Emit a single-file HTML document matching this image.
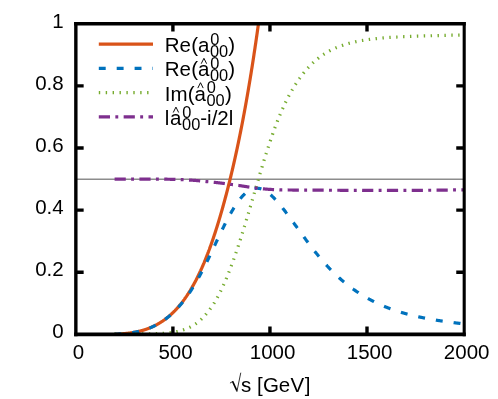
<!DOCTYPE html>
<html><head><meta charset="utf-8"><title>plot</title>
<style>
html,body{margin:0;padding:0;background:#fff;}
body{width:498px;height:399px;overflow:hidden;}
svg{display:block;}
text{font-family:"Liberation Sans",sans-serif;font-size:20.5px;fill:#000;font-kerning:none;}
text.s{font-size:16.4px;}
</style></head><body>
<svg style="will-change:transform" width="498" height="399" viewBox="0 0 498 399">
<rect x="0" y="0" width="498" height="399" fill="#fff"/>
<defs><clipPath id="c"><rect x="75.85" y="23.7" width="388.20000000000005" height="310.65000000000003"/></clipPath></defs>
<path d="M75.85,179.22 H464.05" stroke="#8c8c8c" stroke-width="1.5" fill="none"/>
<g fill="none" stroke-width="3.2" clip-path="url(#c)" stroke-linejoin="round">
<path d="M114.59,334.12 L114.79,334.11 L114.98,334.11 L115.18,334.10 L115.37,334.10 L115.57,334.09 L115.76,334.08 L115.95,334.08 L116.15,334.07 L116.34,334.06 L116.54,334.06 L116.73,334.05 L116.93,334.04 L117.12,334.04 L117.31,334.03 L117.51,334.02 L117.70,334.01 L117.90,334.00 L118.09,334.00 L118.29,333.99 L118.48,333.98 L118.67,333.97 L118.87,333.96 L119.06,333.95 L119.26,333.94 L119.45,333.93 L119.64,333.92 L119.84,333.91 L120.03,333.90 L120.23,333.89 L120.42,333.88 L120.62,333.87 L120.81,333.85 L121.00,333.84 L121.20,333.83 L121.39,333.82 L121.59,333.80 L121.78,333.79 L121.98,333.78 L122.17,333.76 L122.36,333.75 L122.56,333.74 L122.75,333.72 L122.95,333.71 L123.14,333.69 L123.34,333.68 L123.53,333.66 L123.72,333.65 L123.92,333.63 L124.11,333.61 L124.31,333.60 L124.50,333.58 L124.69,333.56 L124.89,333.55 L125.08,333.53 L125.28,333.51 L125.47,333.49 L125.67,333.47 L125.86,333.46 L126.05,333.44 L126.25,333.42 L126.44,333.40 L126.64,333.38 L126.83,333.36 L127.03,333.33 L127.22,333.31 L127.41,333.29 L127.61,333.27 L127.80,333.25 L128.00,333.23 L128.19,333.20 L128.38,333.18 L128.58,333.16 L128.77,333.13 L128.97,333.11 L129.16,333.08 L129.36,333.06 L129.55,333.03 L129.74,333.01 L129.94,332.98 L130.13,332.96 L130.33,332.93 L130.52,332.90 L130.72,332.88 L130.91,332.85 L131.10,332.82 L131.30,332.79 L131.49,332.76 L131.69,332.73 L131.88,332.70 L132.08,332.67 L132.27,332.64 L132.46,332.61 L132.66,332.58 L132.85,332.55 L133.05,332.52 L133.24,332.48 L133.43,332.45 L133.63,332.42 L133.82,332.38 L134.02,332.35 L134.21,332.32 L134.41,332.28 L134.60,332.24 L134.79,332.21 L134.99,332.17 L135.18,332.14 L135.38,332.10 L135.57,332.06 L135.77,332.02 L135.96,331.98 L136.15,331.95 L136.35,331.91 L136.54,331.87 L136.74,331.83 L136.93,331.79 L137.13,331.74 L137.32,331.70 L137.51,331.66 L137.71,331.62 L137.90,331.57 L138.10,331.53 L138.29,331.49 L138.48,331.44 L138.68,331.40 L138.87,331.35 L139.07,331.31 L139.26,331.26 L139.46,331.21 L139.65,331.17 L139.84,331.12 L140.04,331.07 L140.23,331.02 L140.43,330.97 L140.62,330.92 L140.82,330.87 L141.01,330.82 L141.20,330.77 L141.40,330.71 L141.59,330.66 L141.79,330.61 L141.98,330.55 L142.17,330.50 L142.37,330.45 L142.56,330.39 L142.76,330.33 L142.95,330.28 L143.15,330.22 L143.34,330.16 L143.53,330.11 L143.73,330.05 L143.92,329.99 L144.12,329.93 L144.31,329.87 L144.51,329.81 L144.70,329.74 L144.89,329.68 L145.09,329.62 L145.28,329.56 L145.48,329.49 L145.67,329.43 L145.87,329.36 L146.06,329.30 L146.25,329.23 L146.45,329.16 L146.64,329.09 L146.84,329.03 L147.03,328.96 L147.22,328.89 L147.42,328.82 L147.61,328.75 L147.81,328.68 L148.00,328.60 L148.20,328.53 L148.39,328.46 L148.58,328.38 L148.78,328.31 L148.97,328.23 L149.17,328.16 L149.36,328.08 L149.56,328.00 L149.75,327.93 L149.94,327.85 L150.14,327.77 L150.33,327.69 L150.53,327.61 L150.72,327.52 L150.92,327.44 L151.11,327.36 L151.30,327.28 L151.50,327.19 L151.69,327.11 L151.89,327.02 L152.08,326.94 L152.27,326.85 L152.47,326.76 L152.66,326.67 L152.86,326.58 L153.05,326.49 L153.25,326.40 L153.44,326.31 L153.63,326.22 L153.83,326.12 L154.02,326.03 L154.22,325.94 L154.41,325.84 L154.61,325.75 L154.80,325.65 L154.99,325.55 L155.19,325.45 L155.38,325.35 L155.58,325.25 L155.77,325.15 L155.96,325.05 L156.16,324.95 L156.35,324.85 L156.55,324.74 L156.74,324.64 L156.94,324.53 L157.13,324.43 L157.32,324.32 L157.52,324.21 L157.71,324.10 L157.91,323.99 L158.10,323.88 L158.30,323.77 L158.49,323.66 L158.68,323.55 L158.88,323.43 L159.07,323.32 L159.27,323.20 L159.46,323.08 L159.66,322.97 L159.85,322.85 L160.04,322.73 L160.24,322.61 L160.43,322.49 L160.63,322.37 L160.82,322.24 L161.01,322.12 L161.21,322.00 L161.40,321.87 L161.60,321.75 L161.79,321.62 L161.99,321.49 L162.18,321.36 L162.37,321.23 L162.57,321.10 L162.76,320.97 L162.96,320.84 L163.15,320.70 L163.35,320.57 L163.54,320.43 L163.73,320.30 L163.93,320.16 L164.12,320.02 L164.32,319.88 L164.51,319.74 L164.71,319.60 L164.90,319.46 L165.09,319.31 L165.29,319.17 L165.48,319.02 L165.68,318.88 L165.87,318.73 L166.06,318.58 L166.26,318.43 L166.45,318.28 L166.65,318.13 L166.84,317.98 L167.04,317.82 L167.23,317.67 L167.42,317.51 L167.62,317.35 L167.81,317.20 L168.01,317.04 L168.20,316.88 L168.40,316.72 L168.59,316.56 L168.78,316.39 L168.98,316.23 L169.17,316.06 L169.37,315.90 L169.56,315.73 L169.75,315.56 L169.95,315.39 L170.14,315.22 L170.34,315.05 L170.53,314.87 L170.73,314.70 L170.92,314.52 L171.11,314.35 L171.31,314.17 L171.50,313.99 L171.70,313.81 L171.89,313.63 L172.09,313.45 L172.28,313.26 L172.47,313.08 L172.67,312.89 L172.86,312.71 L173.06,312.52 L173.25,312.33 L173.45,312.14 L173.64,311.94 L173.83,311.75 L174.03,311.56 L174.22,311.36 L174.42,311.16 L174.61,310.97 L174.80,310.77 L175.00,310.57 L175.19,310.37 L175.39,310.16 L175.58,309.96 L175.78,309.75 L175.97,309.54 L176.16,309.34 L176.36,309.13 L176.55,308.92 L176.75,308.70 L176.94,308.49 L177.14,308.28 L177.33,308.06 L177.52,307.84 L177.72,307.62 L177.91,307.40 L178.11,307.18 L178.30,306.96 L178.50,306.74 L178.69,306.51 L178.88,306.28 L179.08,306.05 L179.27,305.83 L179.47,305.59 L179.66,305.36 L179.85,305.13 L180.05,304.89 L180.24,304.66 L180.44,304.42 L180.63,304.18 L180.83,303.94 L181.02,303.70 L181.21,303.45 L181.41,303.21 L181.60,302.96 L181.80,302.71 L181.99,302.46 L182.19,302.21 L182.38,301.96 L182.57,301.70 L182.77,301.45 L182.96,301.19 L183.16,300.93 L183.35,300.67 L183.54,300.41 L183.74,300.15 L183.93,299.88 L184.13,299.62 L184.32,299.35 L184.52,299.08 L184.71,298.81 L184.90,298.54 L185.10,298.26 L185.29,297.99 L185.49,297.71 L185.68,297.43 L185.88,297.15 L186.07,296.87 L186.26,296.59 L186.46,296.30 L186.65,296.01 L186.85,295.73 L187.04,295.43 L187.24,295.14 L187.43,294.85 L187.62,294.55 L187.82,294.26 L188.01,293.96 L188.21,293.66 L188.40,293.36 L188.59,293.05 L188.79,292.75 L188.98,292.44 L189.18,292.13 L189.37,291.82 L189.57,291.51 L189.76,291.20 L189.95,290.88 L190.15,290.56 L190.34,290.24 L190.54,289.92 L190.73,289.60 L190.93,289.27 L191.12,288.95 L191.31,288.62 L191.51,288.29 L191.70,287.96 L191.90,287.62 L192.09,287.29 L192.28,286.95 L192.48,286.61 L192.67,286.27 L192.87,285.93 L193.06,285.58 L193.26,285.23 L193.45,284.89 L193.64,284.53 L193.84,284.18 L194.03,283.83 L194.23,283.47 L194.42,283.11 L194.62,282.75 L194.81,282.39 L195.00,282.03 L195.20,281.66 L195.39,281.29 L195.59,280.92 L195.78,280.55 L195.98,280.18 L196.17,279.80 L196.36,279.42 L196.56,279.04 L196.75,278.66 L196.95,278.27 L197.14,277.89 L197.33,277.50 L197.53,277.11 L197.72,276.72 L197.92,276.32 L198.11,275.93 L198.31,275.53 L198.50,275.13 L198.69,274.73 L198.89,274.32 L199.08,273.92 L199.28,273.51 L199.47,273.10 L199.67,272.68 L199.86,272.27 L200.05,271.85 L200.25,271.43 L200.44,271.01 L200.64,270.59 L200.83,270.16 L201.03,269.73 L201.22,269.30 L201.41,268.87 L201.61,268.44 L201.80,268.00 L202.00,267.56 L202.19,267.12 L202.38,266.68 L202.58,266.23 L202.77,265.79 L202.97,265.34 L203.16,264.89 L203.36,264.43 L203.55,263.98 L203.74,263.52 L203.94,263.06 L204.13,262.59 L204.33,262.13 L204.52,261.66 L204.72,261.19 L204.91,260.72 L205.10,260.25 L205.30,259.77 L205.49,259.29 L205.69,258.81 L205.88,258.33 L206.07,257.84 L206.27,257.35 L206.46,256.86 L206.66,256.37 L206.85,255.88 L207.05,255.38 L207.24,254.88 L207.43,254.38 L207.63,253.88 L207.82,253.37 L208.02,252.86 L208.21,252.35 L208.41,251.84 L208.60,251.32 L208.79,250.81 L208.99,250.29 L209.18,249.76 L209.38,249.24 L209.57,248.71 L209.77,248.18 L209.96,247.65 L210.15,247.12 L210.35,246.58 L210.54,246.04 L210.74,245.50 L210.93,244.96 L211.12,244.41 L211.32,243.86 L211.51,243.31 L211.71,242.76 L211.90,242.20 L212.10,241.64 L212.29,241.08 L212.48,240.52 L212.68,239.96 L212.87,239.39 L213.07,238.82 L213.26,238.24 L213.46,237.67 L213.65,237.09 L213.84,236.51 L214.04,235.93 L214.23,235.35 L214.43,234.76 L214.62,234.17 L214.82,233.58 L215.01,232.98 L215.20,232.39 L215.40,231.79 L215.59,231.19 L215.79,230.58 L215.98,229.98 L216.17,229.37 L216.37,228.75 L216.56,228.14 L216.76,227.52 L216.95,226.91 L217.15,226.28 L217.34,225.66 L217.53,225.04 L217.73,224.41 L217.92,223.78 L218.12,223.14 L218.31,222.51 L218.51,221.87 L218.70,221.23 L218.89,220.58 L219.09,219.94 L219.28,219.29 L219.48,218.64 L219.67,217.99 L219.86,217.33 L220.06,216.67 L220.25,216.01 L220.45,215.35 L220.64,214.68 L220.84,214.02 L221.03,213.35 L221.22,212.67 L221.42,212.00 L221.61,211.32 L221.81,210.64 L222.00,209.96 L222.20,209.27 L222.39,208.59 L222.58,207.90 L222.78,207.20 L222.97,206.51 L223.17,205.81 L223.36,205.11 L223.56,204.41 L223.75,203.70 L223.94,203.00 L224.14,202.29 L224.33,201.57 L224.53,200.86 L224.72,200.14 L224.91,199.42 L225.11,198.70 L225.30,197.97 L225.50,197.24 L225.69,196.51 L225.89,195.78 L226.08,195.04 L226.27,194.31 L226.47,193.56 L226.66,192.82 L226.86,192.07 L227.05,191.32 L227.25,190.57 L227.44,189.82 L227.63,189.06 L227.83,188.30 L228.02,187.54 L228.22,186.77 L228.41,186.00 L228.61,185.23 L228.80,184.46 L228.99,183.68 L229.19,182.90 L229.38,182.12 L229.58,181.33 L229.77,180.54 L229.96,179.75 L230.16,178.96 L230.35,178.16 L230.55,177.36 L230.74,176.56 L230.94,175.75 L231.13,174.94 L231.32,174.13 L231.52,173.32 L231.71,172.50 L231.91,171.68 L232.10,170.85 L232.30,170.03 L232.49,169.20 L232.68,168.37 L232.88,167.53 L233.07,166.69 L233.27,165.85 L233.46,165.00 L233.65,164.15 L233.85,163.30 L234.04,162.45 L234.24,161.59 L234.43,160.73 L234.63,159.87 L234.82,159.00 L235.01,158.13 L235.21,157.25 L235.40,156.38 L235.60,155.50 L235.79,154.61 L235.99,153.72 L236.18,152.83 L236.37,151.94 L236.57,151.04 L236.76,150.14 L236.96,149.24 L237.15,148.33 L237.35,147.42 L237.54,146.50 L237.73,145.59 L237.93,144.67 L238.12,143.74 L238.32,142.81 L238.51,141.88 L238.70,140.94 L238.90,140.00 L239.09,139.06 L239.29,138.11 L239.48,137.16 L239.68,136.21 L239.87,135.25 L240.06,134.29 L240.26,133.32 L240.45,132.36 L240.65,131.38 L240.84,130.41 L241.04,129.43 L241.23,128.44 L241.42,127.45 L241.62,126.46 L241.81,125.46 L242.01,124.46 L242.20,123.46 L242.40,122.45 L242.59,121.44 L242.78,120.42 L242.98,119.40 L243.17,118.38 L243.37,117.35 L243.56,116.32 L243.75,115.28 L243.95,114.24 L244.14,113.20 L244.34,112.15 L244.53,111.10 L244.73,110.04 L244.92,108.98 L245.11,107.92 L245.31,106.85 L245.50,105.77 L245.70,104.70 L245.89,103.61 L246.09,102.53 L246.28,101.44 L246.47,100.34 L246.67,99.24 L246.86,98.14 L247.06,97.03 L247.25,95.92 L247.44,94.80 L247.64,93.68 L247.83,92.56 L248.03,91.43 L248.22,90.29 L248.42,89.15 L248.61,88.01 L248.80,86.86 L249.00,85.71 L249.19,84.55 L249.39,83.39 L249.58,82.23 L249.78,81.06 L249.97,79.88 L250.16,78.70 L250.36,77.52 L250.55,76.33 L250.75,75.14 L250.94,73.94 L251.14,72.74 L251.33,71.53 L251.52,70.32 L251.72,69.10 L251.91,67.88 L252.11,66.65 L252.30,65.42 L252.49,64.18 L252.69,62.94 L252.88,61.69 L253.08,60.44 L253.27,59.19 L253.47,57.92 L253.66,56.66 L253.85,55.39 L254.05,54.11 L254.24,52.83 L254.44,51.54 L254.63,50.25 L254.83,48.96 L255.02,47.66 L255.21,46.35 L255.41,45.04 L255.60,43.72 L255.80,42.40 L255.99,41.07 L256.19,39.74 L256.38,38.40 L256.57,37.06 L256.77,35.71 L256.96,34.36 L257.16,33.00 L257.35,31.63 L257.54,30.26 L257.74,28.89 L257.93,27.51 L258.13,26.12 L258.32,24.73 L258.52,23.33 L258.71,21.93 L258.90,20.52 L259.10,19.11 L259.29,17.69" stroke="#d95319"/>
<path d="M114.59,334.12 L114.79,334.11 L114.98,334.11 L115.18,334.10 L115.37,334.10 L115.57,334.09 L115.76,334.08 L115.95,334.08 L116.15,334.07 L116.34,334.07 L116.54,334.06 L116.73,334.05 L116.93,334.04 L117.12,334.04 L117.31,334.03 L117.51,334.02 L117.70,334.01 L117.90,334.00 L118.09,334.00 L118.29,333.99 L118.48,333.98 L118.67,333.97 L118.87,333.96 L119.06,333.95 L119.26,333.94 L119.45,333.93 L119.64,333.92 L119.84,333.91 L120.03,333.90 L120.23,333.89 L120.42,333.88 L120.62,333.87 L120.81,333.85 L121.00,333.84 L121.20,333.83 L121.39,333.82 L121.59,333.80 L121.78,333.79 L121.98,333.78 L122.17,333.76 L122.36,333.75 L122.56,333.74 L122.75,333.72 L122.95,333.71 L123.14,333.69 L123.34,333.68 L123.53,333.66 L123.72,333.65 L123.92,333.63 L124.11,333.62 L124.31,333.60 L124.50,333.58 L124.69,333.56 L124.89,333.55 L125.08,333.53 L125.28,333.51 L125.47,333.49 L125.67,333.47 L125.86,333.46 L126.05,333.44 L126.25,333.42 L126.44,333.40 L126.64,333.38 L126.83,333.36 L127.03,333.34 L127.22,333.31 L127.41,333.29 L127.61,333.27 L127.80,333.25 L128.00,333.23 L128.19,333.20 L128.38,333.18 L128.58,333.16 L128.77,333.13 L128.97,333.11 L129.16,333.09 L129.36,333.06 L129.55,333.04 L129.74,333.01 L129.94,332.98 L130.13,332.96 L130.33,332.93 L130.52,332.90 L130.72,332.88 L130.91,332.85 L131.10,332.82 L131.30,332.79 L131.49,332.76 L131.69,332.73 L131.88,332.70 L132.08,332.67 L132.27,332.64 L132.46,332.61 L132.66,332.58 L132.85,332.55 L133.05,332.52 L133.24,332.49 L133.43,332.45 L133.63,332.42 L133.82,332.39 L134.02,332.35 L134.21,332.32 L134.41,332.28 L134.60,332.25 L134.79,332.21 L134.99,332.17 L135.18,332.14 L135.38,332.10 L135.57,332.06 L135.77,332.03 L135.96,331.99 L136.15,331.95 L136.35,331.91 L136.54,331.87 L136.74,331.83 L136.93,331.79 L137.13,331.75 L137.32,331.71 L137.51,331.66 L137.71,331.62 L137.90,331.58 L138.10,331.53 L138.29,331.49 L138.48,331.45 L138.68,331.40 L138.87,331.36 L139.07,331.31 L139.26,331.26 L139.46,331.22 L139.65,331.17 L139.84,331.12 L140.04,331.07 L140.23,331.02 L140.43,330.97 L140.62,330.92 L140.82,330.87 L141.01,330.82 L141.20,330.77 L141.40,330.72 L141.59,330.67 L141.79,330.61 L141.98,330.56 L142.17,330.51 L142.37,330.45 L142.56,330.40 L142.76,330.34 L142.95,330.28 L143.15,330.23 L143.34,330.17 L143.53,330.11 L143.73,330.05 L143.92,329.99 L144.12,329.93 L144.31,329.87 L144.51,329.81 L144.70,329.75 L144.89,329.69 L145.09,329.63 L145.28,329.56 L145.48,329.50 L145.67,329.43 L145.87,329.37 L146.06,329.30 L146.25,329.24 L146.45,329.17 L146.64,329.10 L146.84,329.03 L147.03,328.97 L147.22,328.90 L147.42,328.83 L147.61,328.76 L147.81,328.68 L148.00,328.61 L148.20,328.54 L148.39,328.47 L148.58,328.39 L148.78,328.32 L148.97,328.24 L149.17,328.17 L149.36,328.09 L149.56,328.01 L149.75,327.94 L149.94,327.86 L150.14,327.78 L150.33,327.70 L150.53,327.62 L150.72,327.54 L150.92,327.45 L151.11,327.37 L151.30,327.29 L151.50,327.20 L151.69,327.12 L151.89,327.03 L152.08,326.95 L152.27,326.86 L152.47,326.77 L152.66,326.69 L152.86,326.60 L153.05,326.51 L153.25,326.42 L153.44,326.33 L153.63,326.23 L153.83,326.14 L154.02,326.05 L154.22,325.95 L154.41,325.86 L154.61,325.76 L154.80,325.67 L154.99,325.57 L155.19,325.47 L155.38,325.37 L155.58,325.27 L155.77,325.17 L155.96,325.07 L156.16,324.97 L156.35,324.87 L156.55,324.76 L156.74,324.66 L156.94,324.55 L157.13,324.45 L157.32,324.34 L157.52,324.23 L157.71,324.13 L157.91,324.02 L158.10,323.91 L158.30,323.80 L158.49,323.69 L158.68,323.57 L158.88,323.46 L159.07,323.35 L159.27,323.23 L159.46,323.11 L159.66,323.00 L159.85,322.88 L160.04,322.76 L160.24,322.64 L160.43,322.52 L160.63,322.40 L160.82,322.28 L161.01,322.16 L161.21,322.03 L161.40,321.91 L161.60,321.78 L161.79,321.66 L161.99,321.53 L162.18,321.40 L162.37,321.27 L162.57,321.14 L162.76,321.01 L162.96,320.88 L163.15,320.75 L163.35,320.61 L163.54,320.48 L163.73,320.34 L163.93,320.21 L164.12,320.07 L164.32,319.93 L164.51,319.79 L164.71,319.65 L164.90,319.51 L165.09,319.37 L165.29,319.23 L165.48,319.08 L165.68,318.94 L165.87,318.79 L166.06,318.65 L166.26,318.50 L166.45,318.35 L166.65,318.20 L166.84,318.05 L167.04,317.90 L167.23,317.74 L167.42,317.59 L167.62,317.43 L167.81,317.28 L168.01,317.12 L168.20,316.96 L168.40,316.81 L168.59,316.65 L168.78,316.48 L168.98,316.32 L169.17,316.16 L169.37,316.00 L169.56,315.83 L169.75,315.66 L169.95,315.50 L170.14,315.33 L170.34,315.16 L170.53,314.99 L170.73,314.82 L170.92,314.65 L171.11,314.47 L171.31,314.30 L171.50,314.12 L171.70,313.95 L171.89,313.77 L172.09,313.59 L172.28,313.41 L172.47,313.23 L172.67,313.05 L172.86,312.86 L173.06,312.68 L173.25,312.49 L173.45,312.31 L173.64,312.12 L173.83,311.93 L174.03,311.74 L174.22,311.55 L174.42,311.36 L174.61,311.16 L174.80,310.97 L175.00,310.77 L175.19,310.57 L175.39,310.38 L175.58,310.18 L175.78,309.98 L175.97,309.77 L176.16,309.57 L176.36,309.37 L176.55,309.16 L176.75,308.96 L176.94,308.75 L177.14,308.54 L177.33,308.33 L177.52,308.12 L177.72,307.91 L177.91,307.70 L178.11,307.48 L178.30,307.27 L178.50,307.05 L178.69,306.83 L178.88,306.61 L179.08,306.39 L179.27,306.17 L179.47,305.95 L179.66,305.72 L179.85,305.50 L180.05,305.27 L180.24,305.04 L180.44,304.81 L180.63,304.58 L180.83,304.35 L181.02,304.12 L181.21,303.89 L181.41,303.65 L181.60,303.41 L181.80,303.18 L181.99,302.94 L182.19,302.70 L182.38,302.45 L182.57,302.21 L182.77,301.97 L182.96,301.72 L183.16,301.48 L183.35,301.23 L183.54,300.98 L183.74,300.73 L183.93,300.48 L184.13,300.22 L184.32,299.97 L184.52,299.71 L184.71,299.46 L184.90,299.20 L185.10,298.94 L185.29,298.68 L185.49,298.42 L185.68,298.15 L185.88,297.89 L186.07,297.62 L186.26,297.35 L186.46,297.08 L186.65,296.82 L186.85,296.54 L187.04,296.27 L187.24,296.00 L187.43,295.72 L187.62,295.45 L187.82,295.17 L188.01,294.89 L188.21,294.61 L188.40,294.33 L188.59,294.04 L188.79,293.76 L188.98,293.47 L189.18,293.18 L189.37,292.90 L189.57,292.61 L189.76,292.31 L189.95,292.02 L190.15,291.73 L190.34,291.43 L190.54,291.13 L190.73,290.84 L190.93,290.54 L191.12,290.23 L191.31,289.93 L191.51,289.63 L191.70,289.32 L191.90,289.02 L192.09,288.71 L192.28,288.40 L192.48,288.09 L192.67,287.78 L192.87,287.46 L193.06,287.15 L193.26,286.83 L193.45,286.52 L193.64,286.20 L193.84,285.88 L194.03,285.56 L194.23,285.23 L194.42,284.91 L194.62,284.59 L194.81,284.26 L195.00,283.93 L195.20,283.60 L195.39,283.27 L195.59,282.94 L195.78,282.61 L195.98,282.28 L196.17,281.95 L196.36,281.61 L196.56,281.27 L196.75,280.94 L196.95,280.60 L197.14,280.26 L197.33,279.92 L197.53,279.58 L197.72,279.23 L197.92,278.89 L198.11,278.54 L198.31,278.20 L198.50,277.85 L198.69,277.50 L198.89,277.15 L199.08,276.80 L199.28,276.45 L199.47,276.09 L199.67,275.74 L199.86,275.38 L200.05,275.02 L200.25,274.66 L200.44,274.30 L200.64,273.94 L200.83,273.58 L201.03,273.22 L201.22,272.85 L201.41,272.49 L201.61,272.12 L201.80,271.75 L202.00,271.38 L202.19,271.01 L202.38,270.64 L202.58,270.27 L202.77,269.90 L202.97,269.53 L203.16,269.15 L203.36,268.77 L203.55,268.40 L203.74,268.02 L203.94,267.64 L204.13,267.26 L204.33,266.88 L204.52,266.50 L204.72,266.11 L204.91,265.73 L205.10,265.35 L205.30,264.96 L205.49,264.57 L205.69,264.18 L205.88,263.80 L206.07,263.41 L206.27,263.01 L206.46,262.62 L206.66,262.23 L206.85,261.84 L207.05,261.44 L207.24,261.05 L207.43,260.65 L207.63,260.25 L207.82,259.86 L208.02,259.46 L208.21,259.06 L208.41,258.66 L208.60,258.26 L208.79,257.85 L208.99,257.45 L209.18,257.05 L209.38,256.64 L209.57,256.24 L209.77,255.83 L209.96,255.43 L210.15,255.02 L210.35,254.61 L210.54,254.21 L210.74,253.80 L210.93,253.39 L211.12,252.98 L211.32,252.57 L211.51,252.16 L211.71,251.75 L211.90,251.34 L212.10,250.93 L212.29,250.52 L212.48,250.11 L212.68,249.70 L212.87,249.28 L213.07,248.87 L213.26,248.46 L213.46,248.05 L213.65,247.63 L213.84,247.22 L214.04,246.81 L214.23,246.39 L214.43,245.98 L214.62,245.57 L214.82,245.15 L215.01,244.74 L215.20,244.33 L215.40,243.92 L215.59,243.50 L215.79,243.09 L215.98,242.68 L216.17,242.26 L216.37,241.85 L216.56,241.44 L216.76,241.02 L216.95,240.61 L217.15,240.20 L217.34,239.79 L217.53,239.38 L217.73,238.97 L217.92,238.55 L218.12,238.14 L218.31,237.73 L218.51,237.32 L218.70,236.91 L218.89,236.51 L219.09,236.10 L219.28,235.69 L219.48,235.28 L219.67,234.87 L219.86,234.47 L220.06,234.06 L220.25,233.66 L220.45,233.25 L220.64,232.85 L220.84,232.44 L221.03,232.04 L221.22,231.64 L221.42,231.24 L221.61,230.84 L221.81,230.44 L222.00,230.04 L222.20,229.64 L222.39,229.24 L222.58,228.84 L222.78,228.45 L222.97,228.05 L223.17,227.66 L223.36,227.27 L223.56,226.88 L223.75,226.48 L223.94,226.10 L224.14,225.71 L224.33,225.32 L224.53,224.93 L224.72,224.55 L224.91,224.16 L225.11,223.78 L225.30,223.40 L225.50,223.01 L225.69,222.63 L225.89,222.26 L226.08,221.88 L226.27,221.50 L226.47,221.13 L226.66,220.75 L226.86,220.38 L227.05,220.01 L227.25,219.64 L227.44,219.27 L227.63,218.90 L227.83,218.54 L228.02,218.17 L228.22,217.81 L228.41,217.45 L228.61,217.09 L228.80,216.73 L228.99,216.37 L229.19,216.01 L229.38,215.66 L229.58,215.31 L229.77,214.95 L229.96,214.60 L230.16,214.26 L230.35,213.91 L230.55,213.57 L230.74,213.22 L230.94,212.88 L231.13,212.54 L231.32,212.20 L231.52,211.87 L231.71,211.53 L231.91,211.20 L232.10,210.87 L232.30,210.54 L232.49,210.21 L232.68,209.88 L232.88,209.56 L233.07,209.24 L233.27,208.91 L233.46,208.60 L233.65,208.28 L233.85,207.96 L234.04,207.65 L234.24,207.34 L234.43,207.03 L234.63,206.72 L234.82,206.42 L235.01,206.12 L235.21,205.81 L235.40,205.52 L235.60,205.22 L235.79,204.92 L235.99,204.63 L236.18,204.34 L236.37,204.05 L236.57,203.76 L236.76,203.48 L236.96,203.20 L237.15,202.92 L237.35,202.64 L237.54,202.36 L237.73,202.09 L237.93,201.82 L238.12,201.55 L238.32,201.28 L238.51,201.02 L238.70,200.76 L238.90,200.50 L239.09,200.24 L239.29,199.99 L239.48,199.73 L239.68,199.48 L239.87,199.24 L240.06,198.99 L240.26,198.75 L240.45,198.51 L240.65,198.27 L240.84,198.04 L241.04,197.81 L241.23,197.58 L241.42,197.35 L241.62,197.13 L241.81,196.90 L242.01,196.69 L242.20,196.47 L242.40,196.26 L242.59,196.04 L242.78,195.84 L242.98,195.63 L243.17,195.43 L243.37,195.23 L243.56,195.03 L243.75,194.83 L243.95,194.64 L244.14,194.45 L244.34,194.27 L244.53,194.08 L244.73,193.90 L244.92,193.72 L245.11,193.55 L245.31,193.37 L245.50,193.20 L245.70,193.04 L245.89,192.87 L246.09,192.71 L246.28,192.55 L246.47,192.40 L246.67,192.24 L246.86,192.09 L247.06,191.95 L247.25,191.80 L247.44,191.66 L247.64,191.52 L247.83,191.38 L248.03,191.25 L248.22,191.12 L248.42,190.99 L248.61,190.87 L248.80,190.75 L249.00,190.63 L249.19,190.51 L249.39,190.40 L249.58,190.29 L249.78,190.18 L249.97,190.08 L250.16,189.97 L250.36,189.87 L250.55,189.78 L250.75,189.69 L250.94,189.60 L251.14,189.51 L251.33,189.42 L251.52,189.34 L251.72,189.26 L251.91,189.19 L252.11,189.11 L252.30,189.04 L252.49,188.98 L252.69,188.91 L252.88,188.85 L253.08,188.79 L253.27,188.74 L253.47,188.68 L253.66,188.63 L253.85,188.59 L254.05,188.54 L254.24,188.50 L254.44,188.46 L254.63,188.43 L254.83,188.39 L255.02,188.36 L255.21,188.34 L255.41,188.31 L255.60,188.29 L255.80,188.27 L255.99,188.26 L256.19,188.24 L256.38,188.24 L256.57,188.23 L256.77,188.23 L256.96,188.22 L257.16,188.23 L257.35,188.23 L257.54,188.24 L257.74,188.25 L257.93,188.26 L258.13,188.28 L258.32,188.30 L258.52,188.32 L258.71,188.35 L258.90,188.37 L259.10,188.40 L259.29,188.44 L259.49,188.47 L259.68,188.51 L259.88,188.55 L260.07,188.60 L260.26,188.64 L260.46,188.69 L260.65,188.75 L260.85,188.80 L261.04,188.86 L261.23,188.92 L261.43,188.98 L261.62,189.05 L261.82,189.12 L262.01,189.19 L262.21,189.26 L262.40,189.34 L262.59,189.42 L262.79,189.50 L262.98,189.58 L263.18,189.67 L263.37,189.76 L263.57,189.85 L263.76,189.95 L263.95,190.05 L264.15,190.15 L264.34,190.25 L264.54,190.36 L264.73,190.47 L264.93,190.58 L265.12,190.69 L265.31,190.81 L265.51,190.92 L265.70,191.04 L265.90,191.17 L266.09,191.29 L266.28,191.42 L266.48,191.55 L266.67,191.68 L266.87,191.81 L267.06,191.95 L267.26,192.09 L267.45,192.23 L267.64,192.37 L267.84,192.52 L268.03,192.66 L268.23,192.81 L268.42,192.96 L268.62,193.11 L268.81,193.27 L269.00,193.42 L269.20,193.58 L269.39,193.74 L269.59,193.90 L269.78,194.06 L269.98,194.23 L270.17,194.39 L270.36,194.56 L270.56,194.73 L270.75,194.90 L270.95,195.08 L271.14,195.25 L271.33,195.43 L271.53,195.61 L271.72,195.79 L271.92,195.97 L272.11,196.16 L272.31,196.34 L272.50,196.53 L272.69,196.72 L272.89,196.91 L273.08,197.10 L273.28,197.30 L273.47,197.50 L273.67,197.69 L273.86,197.89 L274.05,198.09 L274.25,198.30 L274.44,198.50 L274.64,198.70 L274.83,198.91 L275.02,199.12 L275.22,199.33 L275.41,199.54 L275.61,199.75 L275.80,199.96 L276.00,200.18 L276.19,200.40 L276.38,200.61 L276.58,200.83 L276.77,201.05 L276.97,201.27 L277.16,201.49 L277.36,201.72 L277.55,201.94 L277.74,202.17 L277.94,202.39 L278.13,202.62 L278.33,202.85 L278.52,203.08 L278.72,203.31 L278.91,203.54 L279.10,203.77 L279.30,204.01 L279.49,204.24 L279.69,204.48 L279.88,204.71 L280.07,204.95 L280.27,205.19 L280.46,205.42 L280.66,205.66 L280.85,205.90 L281.05,206.14 L281.24,206.39 L281.43,206.63 L281.63,206.87 L281.82,207.12 L282.02,207.36 L282.21,207.61 L282.41,207.85 L282.60,208.10 L282.79,208.35 L282.99,208.59 L283.18,208.84 L283.38,209.09 L283.57,209.34 L283.76,209.59 L283.96,209.84 L284.15,210.09 L284.35,210.35 L284.54,210.60 L284.74,210.85 L284.93,211.11 L285.12,211.36 L285.32,211.61 L285.51,211.87 L285.71,212.12 L285.90,212.38 L286.10,212.64 L286.29,212.89 L286.48,213.15 L286.68,213.41 L286.87,213.67 L287.07,213.92 L287.26,214.18 L287.46,214.44 L287.65,214.70 L287.84,214.96 L288.04,215.22 L288.23,215.48 L288.43,215.74 L288.62,216.00 L288.81,216.26 L289.01,216.52 L289.20,216.78 L289.40,217.05 L289.59,217.31 L289.79,217.57 L289.98,217.83 L290.17,218.09 L290.37,218.36 L290.56,218.62 L290.76,218.88 L290.95,219.15 L291.15,219.41 L291.34,219.68 L291.53,219.94 L291.73,220.20 L291.92,220.47 L292.12,220.73 L292.31,221.00 L292.51,221.26 L292.70,221.53 L292.89,221.80 L293.09,222.06 L293.28,222.33 L293.48,222.59 L293.67,222.86 L293.86,223.12 L294.06,223.39 L294.25,223.66 L294.45,223.92 L294.64,224.19 L294.84,224.46 L295.03,224.72 L295.22,224.99 L295.42,225.26 L295.61,225.53 L295.81,225.79 L296.00,226.06 L296.20,226.33 L296.39,226.60 L296.58,226.86 L296.78,227.13 L296.97,227.40 L297.17,227.67 L297.36,227.93 L297.55,228.20 L297.75,228.47 L297.94,228.74 L298.14,229.00 L298.33,229.27 L298.53,229.54 L298.72,229.81 L298.91,230.08 L299.11,230.34 L299.30,230.61 L299.50,230.88 L299.69,231.15 L299.89,231.41 L300.08,231.68 L300.27,231.95 L300.47,232.22 L300.66,232.49 L300.86,232.75 L301.05,233.02 L301.25,233.29 L301.44,233.56 L301.63,233.82 L301.83,234.09 L302.02,234.36 L302.22,234.62 L302.41,234.89 L302.60,235.16 L302.80,235.42 L302.99,235.69 L303.19,235.96 L303.38,236.22 L303.58,236.49 L303.77,236.75 L303.96,237.02 L304.16,237.28 L304.35,237.55 L304.55,237.81 L304.74,238.08 L304.94,238.34 L305.13,238.61 L305.32,238.87 L305.52,239.14 L305.71,239.40 L305.91,239.66 L306.10,239.93 L306.30,240.19 L306.49,240.45 L306.68,240.71 L306.88,240.97 L307.07,241.24 L307.27,241.50 L307.46,241.76 L307.65,242.02 L307.85,242.28 L308.04,242.54 L308.24,242.80 L308.43,243.06 L308.63,243.32 L308.82,243.58 L309.01,243.84 L309.21,244.09 L309.40,244.35 L309.60,244.61 L309.79,244.87 L309.99,245.12 L310.18,245.38 L310.37,245.63 L310.57,245.89 L310.76,246.15 L310.96,246.40 L311.15,246.65 L311.34,246.91 L311.54,247.16 L311.73,247.42 L311.93,247.67 L312.12,247.92 L312.32,248.17 L312.51,248.42 L312.70,248.67 L312.90,248.93 L313.09,249.18 L313.29,249.43 L313.48,249.67 L313.68,249.92 L313.87,250.17 L314.06,250.42 L314.26,250.67 L314.45,250.91 L314.65,251.16 L314.84,251.41 L315.04,251.65 L315.23,251.90 L315.42,252.14 L315.62,252.39 L315.81,252.63 L316.01,252.87 L316.20,253.12 L316.39,253.36 L316.59,253.60 L316.78,253.84 L316.98,254.08 L317.17,254.32 L317.37,254.56 L317.56,254.80 L317.75,255.04 L317.95,255.28 L318.14,255.51 L318.34,255.75 L318.53,255.99 L318.73,256.22 L318.92,256.46 L319.11,256.69 L319.31,256.93 L319.50,257.16 L319.70,257.40 L319.89,257.63 L320.09,257.86 L320.28,258.09 L320.47,258.32 L320.67,258.55 L320.86,258.78 L321.06,259.01 L321.25,259.24 L321.44,259.47 L321.64,259.70 L321.83,259.92 L322.03,260.15 L322.22,260.38 L322.42,260.60 L322.61,260.83 L322.80,261.05 L323.00,261.28 L323.19,261.50 L323.39,261.72 L323.58,261.94 L323.78,262.16 L323.97,262.39 L324.16,262.61 L324.36,262.83 L324.55,263.04 L324.75,263.26 L324.94,263.48 L325.13,263.70 L325.33,263.91 L325.52,264.13 L325.72,264.35 L325.91,264.56 L326.11,264.78 L326.30,264.99 L326.49,265.20 L326.69,265.41 L326.88,265.63 L327.08,265.84 L327.27,266.05 L327.47,266.26 L327.66,266.47 L327.85,266.68 L328.05,266.89 L328.24,267.09 L328.44,267.30 L328.63,267.51 L328.83,267.71 L329.02,267.92 L329.21,268.12 L329.41,268.33 L329.60,268.53 L329.80,268.73 L329.99,268.94 L330.18,269.14 L330.38,269.34 L330.57,269.54 L330.77,269.74 L330.96,269.94 L331.16,270.14 L331.35,270.33 L331.54,270.53 L331.74,270.73 L331.93,270.93 L332.13,271.12 L332.32,271.32 L332.52,271.51 L332.71,271.71 L332.90,271.90 L333.10,272.09 L333.29,272.28 L333.49,272.48 L333.68,272.67 L333.88,272.86 L334.07,273.05 L334.26,273.24 L334.46,273.43 L334.65,273.61 L334.85,273.80 L335.04,273.99 L335.23,274.17 L335.43,274.36 L335.62,274.55 L335.82,274.73 L336.01,274.91 L336.21,275.10 L336.40,275.28 L336.59,275.46 L336.79,275.65 L336.98,275.83 L337.18,276.01 L337.37,276.19 L337.57,276.37 L337.76,276.55 L337.95,276.73 L338.15,276.90 L338.34,277.08 L338.54,277.26 L338.73,277.43 L338.92,277.61 L339.12,277.79 L339.31,277.96 L339.51,278.13 L339.70,278.31 L339.90,278.48 L340.09,278.65 L340.28,278.83 L340.48,279.00 L340.67,279.17 L340.87,279.34 L341.06,279.51 L341.26,279.68 L341.45,279.85 L341.64,280.01 L341.84,280.18 L342.03,280.35 L342.23,280.52 L342.42,280.68 L342.62,280.85 L342.81,281.01 L343.00,281.18 L343.20,281.34 L343.39,281.51 L343.59,281.67 L343.78,281.83 L343.97,281.99 L344.17,282.15 L344.36,282.32 L344.56,282.48 L344.75,282.64 L344.95,282.80 L345.14,282.95 L345.33,283.11 L345.53,283.27 L345.72,283.43 L345.92,283.59 L346.11,283.74 L346.31,283.90 L346.50,284.05 L346.69,284.21 L346.89,284.36 L347.08,284.52 L347.28,284.67 L347.47,284.82 L347.66,284.98 L347.86,285.13 L348.05,285.28 L348.25,285.43 L348.44,285.58 L348.64,285.73 L348.83,285.88 L349.02,286.03 L349.22,286.18 L349.41,286.33 L349.61,286.47 L349.80,286.62 L350.00,286.77 L350.19,286.91 L350.38,287.06 L350.58,287.21 L350.77,287.35 L350.97,287.49 L351.16,287.64 L351.36,287.78 L351.55,287.93 L351.74,288.07 L351.94,288.21 L352.13,288.35 L352.33,288.49 L352.52,288.63 L352.71,288.77 L352.91,288.91 L353.10,289.05 L353.30,289.19 L353.49,289.33 L353.69,289.47 L353.88,289.61 L354.07,289.74 L354.27,289.88 L354.46,290.02 L354.66,290.15 L354.85,290.29 L355.05,290.42 L355.24,290.56 L355.43,290.69 L355.63,290.83 L355.82,290.96 L356.02,291.09 L356.21,291.22 L356.41,291.36 L356.60,291.49 L356.79,291.62 L356.99,291.75 L357.18,291.88 L357.38,292.01 L357.57,292.14 L357.76,292.27 L357.96,292.40 L358.15,292.53 L358.35,292.65 L358.54,292.78 L358.74,292.91 L358.93,293.04 L359.12,293.16 L359.32,293.29 L359.51,293.41 L359.71,293.54 L359.90,293.66 L360.10,293.79 L360.29,293.91 L360.48,294.03 L360.68,294.16 L360.87,294.28 L361.07,294.40 L361.26,294.52 L361.45,294.64 L361.65,294.77 L361.84,294.89 L362.04,295.01 L362.23,295.13 L362.43,295.25 L362.62,295.36 L362.81,295.48 L363.01,295.60 L363.20,295.72 L363.40,295.84 L363.59,295.95 L363.79,296.07 L363.98,296.19 L364.17,296.30 L364.37,296.42 L364.56,296.53 L364.76,296.65 L364.95,296.76 L365.15,296.88 L365.34,296.99 L365.53,297.10 L365.73,297.22 L365.92,297.33 L366.12,297.44 L366.31,297.55 L366.50,297.66 L366.70,297.77 L366.89,297.89 L367.09,298.00 L367.28,298.11 L367.48,298.21 L367.67,298.32 L367.86,298.43 L368.06,298.54 L368.25,298.65 L368.45,298.76 L368.64,298.86 L368.84,298.97 L369.03,299.08 L369.22,299.18 L369.42,299.29 L369.61,299.39 L369.81,299.50 L370.00,299.60 L370.20,299.71 L370.39,299.81 L370.58,299.92 L370.78,300.02 L370.97,300.12 L371.17,300.22 L371.36,300.33 L371.55,300.43 L371.75,300.53 L371.94,300.63 L372.14,300.73 L372.33,300.83 L372.53,300.93 L372.72,301.03 L372.91,301.13 L373.11,301.23 L373.30,301.33 L373.50,301.43 L373.69,301.52 L373.89,301.62 L374.08,301.72 L374.27,301.82 L374.47,301.91 L374.66,302.01 L374.86,302.11 L375.05,302.20 L375.24,302.30 L375.44,302.39 L375.63,302.49 L375.83,302.58 L376.02,302.67 L376.22,302.77 L376.41,302.86 L376.60,302.95 L376.80,303.05 L376.99,303.14 L377.19,303.23 L377.38,303.32 L377.58,303.41 L377.77,303.50 L377.96,303.60 L378.16,303.69 L378.35,303.78 L378.55,303.87 L378.74,303.95 L378.94,304.04 L379.13,304.13 L379.32,304.22 L379.52,304.31 L379.71,304.40 L379.91,304.48 L380.10,304.57 L380.29,304.66 L380.49,304.75 L380.68,304.83 L380.88,304.92 L381.07,305.00 L381.27,305.09 L381.46,305.17 L381.65,305.26 L381.85,305.34 L382.04,305.43 L382.24,305.51 L382.43,305.59 L382.63,305.68 L382.82,305.76 L383.01,305.84 L383.21,305.92 L383.40,306.01 L383.60,306.09 L383.79,306.17 L383.99,306.25 L384.18,306.33 L384.37,306.41 L384.57,306.49 L384.76,306.57 L384.96,306.65 L385.15,306.73 L385.34,306.81 L385.54,306.89 L385.73,306.97 L385.93,307.05 L386.12,307.12 L386.32,307.20 L386.51,307.28 L386.70,307.36 L386.90,307.43 L387.09,307.51 L387.29,307.58 L387.48,307.66 L387.68,307.74 L387.87,307.81 L388.06,307.89 L388.26,307.96 L388.45,308.04 L388.65,308.11 L388.84,308.18 L389.03,308.26 L389.23,308.33 L389.42,308.40 L389.62,308.48 L389.81,308.55 L390.01,308.62 L390.20,308.69 L390.39,308.77 L390.59,308.84 L390.78,308.91 L390.98,308.98 L391.17,309.05 L391.37,309.12 L391.56,309.19 L391.75,309.26 L391.95,309.33 L392.14,309.40 L392.34,309.47 L392.53,309.54 L392.73,309.61 L392.92,309.68 L393.11,309.74 L393.31,309.81 L393.50,309.88 L393.70,309.95 L393.89,310.01 L394.08,310.08 L394.28,310.15 L394.47,310.21 L394.67,310.28 L394.86,310.35 L395.06,310.41 L395.25,310.48 L395.44,310.54 L395.64,310.61 L395.83,310.67 L396.03,310.74 L396.22,310.80 L396.42,310.86 L396.61,310.93 L396.80,310.99 L397.00,311.05 L397.19,311.12 L397.39,311.18 L397.58,311.24 L397.78,311.30 L397.97,311.37 L398.16,311.43 L398.36,311.49 L398.55,311.55 L398.75,311.61 L398.94,311.67 L399.13,311.73 L399.33,311.79 L399.52,311.85 L399.72,311.91 L399.91,311.97 L400.11,312.03 L400.30,312.09 L400.49,312.15 L400.69,312.21 L400.88,312.27 L401.08,312.33 L401.27,312.39 L401.47,312.44 L401.66,312.50 L401.85,312.56 L402.05,312.62 L402.24,312.67 L402.44,312.73 L402.63,312.79 L402.82,312.84 L403.02,312.90 L403.21,312.96 L403.41,313.01 L403.60,313.07 L403.80,313.12 L403.99,313.18 L404.18,313.23 L404.38,313.29 L404.57,313.34 L404.77,313.40 L404.96,313.45 L405.16,313.51 L405.35,313.56 L405.54,313.61 L405.74,313.67 L405.93,313.72 L406.13,313.77 L406.32,313.83 L406.52,313.88 L406.71,313.93 L406.90,313.99 L407.10,314.04 L407.29,314.09 L407.49,314.14 L407.68,314.19 L407.87,314.24 L408.07,314.30 L408.26,314.35 L408.46,314.40 L408.65,314.45 L408.85,314.50 L409.04,314.55 L409.23,314.60 L409.43,314.65 L409.62,314.70 L409.82,314.75 L410.01,314.80 L410.21,314.85 L410.40,314.90 L410.59,314.94 L410.79,314.99 L410.98,315.04 L411.18,315.09 L411.37,315.14 L411.57,315.19 L411.76,315.23 L411.95,315.28 L412.15,315.33 L412.34,315.38 L412.54,315.42 L412.73,315.47 L412.92,315.52 L413.12,315.57 L413.31,315.61 L413.51,315.66 L413.70,315.70 L413.90,315.75 L414.09,315.80 L414.28,315.84 L414.48,315.89 L414.67,315.93 L414.87,315.98 L415.06,316.02 L415.26,316.07 L415.45,316.11 L415.64,316.16 L415.84,316.20 L416.03,316.25 L416.23,316.29 L416.42,316.34 L416.61,316.38 L416.81,316.42 L417.00,316.47 L417.20,316.51 L417.39,316.55 L417.59,316.60 L417.78,316.64 L417.97,316.68 L418.17,316.73 L418.36,316.77 L418.56,316.81 L418.75,316.85 L418.95,316.89 L419.14,316.94 L419.33,316.98 L419.53,317.02 L419.72,317.06 L419.92,317.10 L420.11,317.14 L420.31,317.19 L420.50,317.23 L420.69,317.27 L420.89,317.31 L421.08,317.35 L421.28,317.39 L421.47,317.43 L421.66,317.47 L421.86,317.51 L422.05,317.55 L422.25,317.59 L422.44,317.63 L422.64,317.67 L422.83,317.71 L423.02,317.75 L423.22,317.79 L423.41,317.83 L423.61,317.87 L423.80,317.90 L424.00,317.94 L424.19,317.98 L424.38,318.02 L424.58,318.06 L424.77,318.10 L424.97,318.13 L425.16,318.17 L425.36,318.21 L425.55,318.25 L425.74,318.29 L425.94,318.32 L426.13,318.36 L426.33,318.40 L426.52,318.43 L426.71,318.47 L426.91,318.51 L427.10,318.55 L427.30,318.58 L427.49,318.62 L427.69,318.65 L427.88,318.69 L428.07,318.73 L428.27,318.76 L428.46,318.80 L428.66,318.84 L428.85,318.87 L429.05,318.91 L429.24,318.94 L429.43,318.98 L429.63,319.01 L429.82,319.05 L430.02,319.08 L430.21,319.12 L430.40,319.15 L430.60,319.19 L430.79,319.22 L430.99,319.26 L431.18,319.29 L431.38,319.32 L431.57,319.36 L431.76,319.39 L431.96,319.43 L432.15,319.46 L432.35,319.49 L432.54,319.53 L432.74,319.56 L432.93,319.60 L433.12,319.63 L433.32,319.66 L433.51,319.69 L433.71,319.73 L433.90,319.76 L434.10,319.79 L434.29,319.83 L434.48,319.86 L434.68,319.89 L434.87,319.92 L435.07,319.96 L435.26,319.99 L435.45,320.02 L435.65,320.05 L435.84,320.08 L436.04,320.12 L436.23,320.15 L436.43,320.18 L436.62,320.21 L436.81,320.24 L437.01,320.27 L437.20,320.31 L437.40,320.34 L437.59,320.37 L437.79,320.40 L437.98,320.43 L438.17,320.46 L438.37,320.49 L438.56,320.52 L438.76,320.55 L438.95,320.58 L439.14,320.61 L439.34,320.64 L439.53,320.67 L439.73,320.70 L439.92,320.73 L440.12,320.76 L440.31,320.79 L440.50,320.82 L440.70,320.85 L440.89,320.88 L441.09,320.91 L441.28,320.94 L441.48,320.97 L441.67,321.00 L441.86,321.03 L442.06,321.06 L442.25,321.09 L442.45,321.12 L442.64,321.14 L442.84,321.17 L443.03,321.20 L443.22,321.23 L443.42,321.26 L443.61,321.29 L443.81,321.32 L444.00,321.34 L444.19,321.37 L444.39,321.40 L444.58,321.43 L444.78,321.46 L444.97,321.48 L445.17,321.51 L445.36,321.54 L445.55,321.57 L445.75,321.59 L445.94,321.62 L446.14,321.65 L446.33,321.68 L446.53,321.70 L446.72,321.73 L446.91,321.76 L447.11,321.78 L447.30,321.81 L447.50,321.84 L447.69,321.87 L447.89,321.89 L448.08,321.92 L448.27,321.94 L448.47,321.97 L448.66,322.00 L448.86,322.02 L449.05,322.05 L449.24,322.08 L449.44,322.10 L449.63,322.13 L449.83,322.15 L450.02,322.18 L450.22,322.21 L450.41,322.23 L450.60,322.26 L450.80,322.28 L450.99,322.31 L451.19,322.33 L451.38,322.36 L451.58,322.38 L451.77,322.41 L451.96,322.43 L452.16,322.46 L452.35,322.48 L452.55,322.51 L452.74,322.53 L452.93,322.56 L453.13,322.58 L453.32,322.61 L453.52,322.63 L453.71,322.66 L453.91,322.68 L454.10,322.71 L454.29,322.73 L454.49,322.76 L454.68,322.78 L454.88,322.80 L455.07,322.83 L455.27,322.85 L455.46,322.88 L455.65,322.90 L455.85,322.92 L456.04,322.95 L456.24,322.97 L456.43,322.99 L456.63,323.02 L456.82,323.04 L457.01,323.06 L457.21,323.09 L457.40,323.11 L457.60,323.13 L457.79,323.16 L457.98,323.18 L458.18,323.20 L458.37,323.23 L458.57,323.25 L458.76,323.27 L458.96,323.30 L459.15,323.32 L459.34,323.34 L459.54,323.36 L459.73,323.39 L459.93,323.41 L460.12,323.43 L460.32,323.45 L460.51,323.48 L460.70,323.50 L460.90,323.52 L461.09,323.54 L461.29,323.57 L461.48,323.59 L461.68,323.61 L461.87,323.63 L462.06,323.65 L462.26,323.67 L462.45,323.70 L462.65,323.72 L462.84,323.74 L463.03,323.76 L463.23,323.78 L463.42,323.80 L463.62,323.83 L463.81,323.85 L464.01,323.87 L464.20,323.89" stroke="#0072bd" stroke-dasharray="6.9 11.02" stroke-dashoffset="0.2"/>
<path d="M114.59,334.05 L114.79,334.05 L114.98,334.05 L115.18,334.05 L115.37,334.05 L115.57,334.05 L115.76,334.05 L115.95,334.05 L116.15,334.05 L116.34,334.05 L116.54,334.05 L116.73,334.05 L116.93,334.05 L117.12,334.05 L117.31,334.05 L117.51,334.05 L117.70,334.05 L117.90,334.05 L118.09,334.05 L118.29,334.05 L118.48,334.05 L118.67,334.05 L118.87,334.05 L119.06,334.05 L119.26,334.05 L119.45,334.05 L119.64,334.05 L119.84,334.05 L120.03,334.05 L120.23,334.05 L120.42,334.05 L120.62,334.05 L120.81,334.05 L121.00,334.05 L121.20,334.05 L121.39,334.05 L121.59,334.05 L121.78,334.05 L121.98,334.05 L122.17,334.05 L122.36,334.05 L122.56,334.05 L122.75,334.05 L122.95,334.05 L123.14,334.04 L123.34,334.04 L123.53,334.04 L123.72,334.04 L123.92,334.04 L124.11,334.04 L124.31,334.04 L124.50,334.04 L124.69,334.04 L124.89,334.04 L125.08,334.04 L125.28,334.04 L125.47,334.04 L125.67,334.04 L125.86,334.04 L126.05,334.04 L126.25,334.04 L126.44,334.04 L126.64,334.04 L126.83,334.04 L127.03,334.04 L127.22,334.04 L127.41,334.04 L127.61,334.04 L127.80,334.04 L128.00,334.04 L128.19,334.04 L128.38,334.04 L128.58,334.04 L128.77,334.04 L128.97,334.04 L129.16,334.03 L129.36,334.03 L129.55,334.03 L129.74,334.03 L129.94,334.03 L130.13,334.03 L130.33,334.03 L130.52,334.03 L130.72,334.03 L130.91,334.03 L131.10,334.03 L131.30,334.03 L131.49,334.03 L131.69,334.03 L131.88,334.03 L132.08,334.03 L132.27,334.03 L132.46,334.03 L132.66,334.02 L132.85,334.02 L133.05,334.02 L133.24,334.02 L133.43,334.02 L133.63,334.02 L133.82,334.02 L134.02,334.02 L134.21,334.02 L134.41,334.02 L134.60,334.02 L134.79,334.02 L134.99,334.02 L135.18,334.02 L135.38,334.01 L135.57,334.01 L135.77,334.01 L135.96,334.01 L136.15,334.01 L136.35,334.01 L136.54,334.01 L136.74,334.01 L136.93,334.01 L137.13,334.01 L137.32,334.01 L137.51,334.00 L137.71,334.00 L137.90,334.00 L138.10,334.00 L138.29,334.00 L138.48,334.00 L138.68,334.00 L138.87,334.00 L139.07,334.00 L139.26,333.99 L139.46,333.99 L139.65,333.99 L139.84,333.99 L140.04,333.99 L140.23,333.99 L140.43,333.99 L140.62,333.98 L140.82,333.98 L141.01,333.98 L141.20,333.98 L141.40,333.98 L141.59,333.98 L141.79,333.98 L141.98,333.97 L142.17,333.97 L142.37,333.97 L142.56,333.97 L142.76,333.97 L142.95,333.97 L143.15,333.96 L143.34,333.96 L143.53,333.96 L143.73,333.96 L143.92,333.96 L144.12,333.95 L144.31,333.95 L144.51,333.95 L144.70,333.95 L144.89,333.94 L145.09,333.94 L145.28,333.94 L145.48,333.94 L145.67,333.94 L145.87,333.93 L146.06,333.93 L146.25,333.93 L146.45,333.93 L146.64,333.92 L146.84,333.92 L147.03,333.92 L147.22,333.92 L147.42,333.91 L147.61,333.91 L147.81,333.91 L148.00,333.90 L148.20,333.90 L148.39,333.90 L148.58,333.89 L148.78,333.89 L148.97,333.89 L149.17,333.88 L149.36,333.88 L149.56,333.88 L149.75,333.87 L149.94,333.87 L150.14,333.87 L150.33,333.86 L150.53,333.86 L150.72,333.86 L150.92,333.85 L151.11,333.85 L151.30,333.84 L151.50,333.84 L151.69,333.83 L151.89,333.83 L152.08,333.83 L152.27,333.82 L152.47,333.82 L152.66,333.81 L152.86,333.81 L153.05,333.80 L153.25,333.80 L153.44,333.79 L153.63,333.79 L153.83,333.78 L154.02,333.78 L154.22,333.77 L154.41,333.77 L154.61,333.76 L154.80,333.75 L154.99,333.75 L155.19,333.74 L155.38,333.74 L155.58,333.73 L155.77,333.72 L155.96,333.72 L156.16,333.71 L156.35,333.70 L156.55,333.70 L156.74,333.69 L156.94,333.68 L157.13,333.68 L157.32,333.67 L157.52,333.66 L157.71,333.65 L157.91,333.65 L158.10,333.64 L158.30,333.63 L158.49,333.62 L158.68,333.61 L158.88,333.61 L159.07,333.60 L159.27,333.59 L159.46,333.58 L159.66,333.57 L159.85,333.56 L160.04,333.55 L160.24,333.54 L160.43,333.53 L160.63,333.52 L160.82,333.51 L161.01,333.50 L161.21,333.49 L161.40,333.48 L161.60,333.47 L161.79,333.46 L161.99,333.45 L162.18,333.44 L162.37,333.42 L162.57,333.41 L162.76,333.40 L162.96,333.39 L163.15,333.38 L163.35,333.36 L163.54,333.35 L163.73,333.34 L163.93,333.32 L164.12,333.31 L164.32,333.30 L164.51,333.28 L164.71,333.27 L164.90,333.25 L165.09,333.24 L165.29,333.22 L165.48,333.21 L165.68,333.19 L165.87,333.18 L166.06,333.16 L166.26,333.14 L166.45,333.12 L166.65,333.11 L166.84,333.09 L167.04,333.07 L167.23,333.05 L167.42,333.03 L167.62,333.01 L167.81,332.99 L168.01,332.97 L168.20,332.95 L168.40,332.93 L168.59,332.91 L168.78,332.88 L168.98,332.86 L169.17,332.84 L169.37,332.82 L169.56,332.79 L169.75,332.77 L169.95,332.74 L170.14,332.72 L170.34,332.69 L170.53,332.67 L170.73,332.64 L170.92,332.62 L171.11,332.59 L171.31,332.56 L171.50,332.53 L171.70,332.51 L171.89,332.48 L172.09,332.45 L172.28,332.42 L172.47,332.39 L172.67,332.36 L172.86,332.33 L173.06,332.30 L173.25,332.27 L173.45,332.24 L173.64,332.20 L173.83,332.17 L174.03,332.14 L174.22,332.10 L174.42,332.07 L174.61,332.04 L174.80,332.00 L175.00,331.97 L175.19,331.93 L175.39,331.89 L175.58,331.86 L175.78,331.82 L175.97,331.78 L176.16,331.74 L176.36,331.70 L176.55,331.66 L176.75,331.62 L176.94,331.58 L177.14,331.54 L177.33,331.50 L177.52,331.45 L177.72,331.41 L177.91,331.37 L178.11,331.32 L178.30,331.27 L178.50,331.23 L178.69,331.18 L178.88,331.13 L179.08,331.09 L179.27,331.04 L179.47,330.99 L179.66,330.94 L179.85,330.89 L180.05,330.83 L180.24,330.78 L180.44,330.73 L180.63,330.68 L180.83,330.62 L181.02,330.57 L181.21,330.51 L181.41,330.45 L181.60,330.40 L181.80,330.34 L181.99,330.28 L182.19,330.22 L182.38,330.16 L182.57,330.10 L182.77,330.04 L182.96,329.98 L183.16,329.92 L183.35,329.85 L183.54,329.79 L183.74,329.72 L183.93,329.66 L184.13,329.59 L184.32,329.52 L184.52,329.46 L184.71,329.39 L184.90,329.32 L185.10,329.24 L185.29,329.17 L185.49,329.10 L185.68,329.03 L185.88,328.95 L186.07,328.88 L186.26,328.80 L186.46,328.72 L186.65,328.64 L186.85,328.56 L187.04,328.48 L187.24,328.40 L187.43,328.32 L187.62,328.24 L187.82,328.15 L188.01,328.07 L188.21,327.98 L188.40,327.90 L188.59,327.81 L188.79,327.72 L188.98,327.63 L189.18,327.54 L189.37,327.45 L189.57,327.36 L189.76,327.26 L189.95,327.17 L190.15,327.07 L190.34,326.98 L190.54,326.88 L190.73,326.78 L190.93,326.68 L191.12,326.58 L191.31,326.48 L191.51,326.38 L191.70,326.27 L191.90,326.17 L192.09,326.06 L192.28,325.95 L192.48,325.85 L192.67,325.74 L192.87,325.62 L193.06,325.51 L193.26,325.40 L193.45,325.28 L193.64,325.16 L193.84,325.05 L194.03,324.93 L194.23,324.80 L194.42,324.68 L194.62,324.56 L194.81,324.43 L195.00,324.30 L195.20,324.17 L195.39,324.04 L195.59,323.91 L195.78,323.77 L195.98,323.64 L196.17,323.50 L196.36,323.35 L196.56,323.21 L196.75,323.07 L196.95,322.92 L197.14,322.77 L197.33,322.62 L197.53,322.47 L197.72,322.32 L197.92,322.16 L198.11,322.01 L198.31,321.85 L198.50,321.69 L198.69,321.53 L198.89,321.37 L199.08,321.20 L199.28,321.04 L199.47,320.87 L199.67,320.70 L199.86,320.53 L200.05,320.36 L200.25,320.19 L200.44,320.01 L200.64,319.84 L200.83,319.66 L201.03,319.48 L201.22,319.30 L201.41,319.12 L201.61,318.93 L201.80,318.74 L202.00,318.55 L202.19,318.36 L202.38,318.17 L202.58,317.98 L202.77,317.78 L202.97,317.58 L203.16,317.39 L203.36,317.18 L203.55,316.98 L203.74,316.78 L203.94,316.57 L204.13,316.36 L204.33,316.15 L204.52,315.94 L204.72,315.73 L204.91,315.51 L205.10,315.30 L205.30,315.08 L205.49,314.86 L205.69,314.63 L205.88,314.41 L206.07,314.18 L206.27,313.96 L206.46,313.73 L206.66,313.49 L206.85,313.26 L207.05,313.03 L207.24,312.79 L207.43,312.55 L207.63,312.31 L207.82,312.07 L208.02,311.82 L208.21,311.58 L208.41,311.33 L208.60,311.08 L208.79,310.83 L208.99,310.57 L209.18,310.32 L209.38,310.06 L209.57,309.80 L209.77,309.54 L209.96,309.27 L210.15,309.00 L210.35,308.73 L210.54,308.46 L210.74,308.19 L210.93,307.91 L211.12,307.64 L211.32,307.36 L211.51,307.07 L211.71,306.79 L211.90,306.50 L212.10,306.21 L212.29,305.92 L212.48,305.63 L212.68,305.33 L212.87,305.03 L213.07,304.73 L213.26,304.43 L213.46,304.12 L213.65,303.81 L213.84,303.50 L214.04,303.19 L214.23,302.87 L214.43,302.55 L214.62,302.23 L214.82,301.91 L215.01,301.58 L215.20,301.26 L215.40,300.93 L215.59,300.59 L215.79,300.26 L215.98,299.92 L216.17,299.58 L216.37,299.24 L216.56,298.89 L216.76,298.55 L216.95,298.20 L217.15,297.85 L217.34,297.49 L217.53,297.13 L217.73,296.78 L217.92,296.41 L218.12,296.05 L218.31,295.68 L218.51,295.31 L218.70,294.94 L218.89,294.57 L219.09,294.19 L219.28,293.82 L219.48,293.44 L219.67,293.05 L219.86,292.67 L220.06,292.28 L220.25,291.89 L220.45,291.50 L220.64,291.10 L220.84,290.70 L221.03,290.30 L221.22,289.90 L221.42,289.50 L221.61,289.09 L221.81,288.68 L222.00,288.27 L222.20,287.86 L222.39,287.44 L222.58,287.02 L222.78,286.60 L222.97,286.18 L223.17,285.75 L223.36,285.33 L223.56,284.90 L223.75,284.46 L223.94,284.03 L224.14,283.59 L224.33,283.15 L224.53,282.71 L224.72,282.27 L224.91,281.82 L225.11,281.37 L225.30,280.92 L225.50,280.47 L225.69,280.01 L225.89,279.55 L226.08,279.09 L226.27,278.63 L226.47,278.17 L226.66,277.70 L226.86,277.23 L227.05,276.76 L227.25,276.29 L227.44,275.81 L227.63,275.33 L227.83,274.85 L228.02,274.37 L228.22,273.88 L228.41,273.40 L228.61,272.91 L228.80,272.42 L228.99,271.92 L229.19,271.43 L229.38,270.93 L229.58,270.43 L229.77,269.93 L229.96,269.42 L230.16,268.91 L230.35,268.41 L230.55,267.89 L230.74,267.38 L230.94,266.87 L231.13,266.35 L231.32,265.83 L231.52,265.31 L231.71,264.78 L231.91,264.26 L232.10,263.73 L232.30,263.20 L232.49,262.67 L232.68,262.13 L232.88,261.60 L233.07,261.06 L233.27,260.52 L233.46,259.98 L233.65,259.43 L233.85,258.89 L234.04,258.34 L234.24,257.79 L234.43,257.24 L234.63,256.68 L234.82,256.13 L235.01,255.57 L235.21,255.01 L235.40,254.45 L235.60,253.89 L235.79,253.32 L235.99,252.75 L236.18,252.18 L236.37,251.61 L236.57,251.04 L236.76,250.47 L236.96,249.89 L237.15,249.31 L237.35,248.73 L237.54,248.15 L237.73,247.57 L237.93,246.98 L238.12,246.39 L238.32,245.80 L238.51,245.21 L238.70,244.62 L238.90,244.03 L239.09,243.43 L239.29,242.83 L239.48,242.24 L239.68,241.63 L239.87,241.03 L240.06,240.43 L240.26,239.82 L240.45,239.21 L240.65,238.60 L240.84,237.99 L241.04,237.38 L241.23,236.77 L241.42,236.15 L241.62,235.53 L241.81,234.92 L242.01,234.30 L242.20,233.67 L242.40,233.05 L242.59,232.43 L242.78,231.80 L242.98,231.18 L243.17,230.55 L243.37,229.92 L243.56,229.29 L243.75,228.65 L243.95,228.02 L244.14,227.39 L244.34,226.75 L244.53,226.11 L244.73,225.48 L244.92,224.84 L245.11,224.20 L245.31,223.56 L245.50,222.91 L245.70,222.27 L245.89,221.63 L246.09,220.98 L246.28,220.33 L246.47,219.69 L246.67,219.04 L246.86,218.39 L247.06,217.74 L247.25,217.09 L247.44,216.44 L247.64,215.79 L247.83,215.13 L248.03,214.48 L248.22,213.83 L248.42,213.17 L248.61,212.51 L248.80,211.86 L249.00,211.20 L249.19,210.54 L249.39,209.89 L249.58,209.23 L249.78,208.57 L249.97,207.91 L250.16,207.25 L250.36,206.59 L250.55,205.93 L250.75,205.27 L250.94,204.60 L251.14,203.94 L251.33,203.28 L251.52,202.62 L251.72,201.96 L251.91,201.29 L252.11,200.63 L252.30,199.97 L252.49,199.30 L252.69,198.64 L252.88,197.97 L253.08,197.31 L253.27,196.65 L253.47,195.98 L253.66,195.32 L253.85,194.65 L254.05,193.99 L254.24,193.33 L254.44,192.66 L254.63,192.00 L254.83,191.34 L255.02,190.67 L255.21,190.01 L255.41,189.35 L255.60,188.68 L255.80,188.02 L255.99,187.36 L256.19,186.69 L256.38,186.03 L256.57,185.37 L256.77,184.71 L256.96,184.05 L257.16,183.39 L257.35,182.73 L257.54,182.07 L257.74,181.41 L257.93,180.75 L258.13,180.09 L258.32,179.43 L258.52,178.78 L258.71,178.12 L258.90,177.46 L259.10,176.81 L259.29,176.15 L259.49,175.50 L259.68,174.85 L259.88,174.19 L260.07,173.54 L260.26,172.89 L260.46,172.24 L260.65,171.59 L260.85,170.94 L261.04,170.29 L261.23,169.65 L261.43,169.00 L261.62,168.36 L261.82,167.71 L262.01,167.07 L262.21,166.43 L262.40,165.79 L262.59,165.15 L262.79,164.51 L262.98,163.87 L263.18,163.23 L263.37,162.60 L263.57,161.96 L263.76,161.33 L263.95,160.70 L264.15,160.07 L264.34,159.44 L264.54,158.81 L264.73,158.18 L264.93,157.56 L265.12,156.94 L265.31,156.31 L265.51,155.69 L265.70,155.07 L265.90,154.46 L266.09,153.84 L266.28,153.23 L266.48,152.61 L266.67,152.00 L266.87,151.39 L267.06,150.78 L267.26,150.18 L267.45,149.57 L267.64,148.97 L267.84,148.37 L268.03,147.77 L268.23,147.17 L268.42,146.57 L268.62,145.98 L268.81,145.39 L269.00,144.80 L269.20,144.21 L269.39,143.62 L269.59,143.03 L269.78,142.45 L269.98,141.87 L270.17,141.29 L270.36,140.71 L270.56,140.13 L270.75,139.56 L270.95,138.99 L271.14,138.42 L271.33,137.85 L271.53,137.28 L271.72,136.72 L271.92,136.16 L272.11,135.60 L272.31,135.04 L272.50,134.48 L272.69,133.93 L272.89,133.38 L273.08,132.83 L273.28,132.28 L273.47,131.74 L273.67,131.20 L273.86,130.65 L274.05,130.12 L274.25,129.58 L274.44,129.05 L274.64,128.51 L274.83,127.99 L275.02,127.46 L275.22,126.93 L275.41,126.41 L275.61,125.89 L275.80,125.37 L276.00,124.86 L276.19,124.34 L276.38,123.83 L276.58,123.32 L276.77,122.82 L276.97,122.31 L277.16,121.81 L277.36,121.31 L277.55,120.81 L277.74,120.32 L277.94,119.83 L278.13,119.34 L278.33,118.85 L278.52,118.37 L278.72,117.88 L278.91,117.40 L279.10,116.92 L279.30,116.45 L279.49,115.98 L279.69,115.51 L279.88,115.04 L280.07,114.57 L280.27,114.11 L280.46,113.65 L280.66,113.19 L280.85,112.73 L281.05,112.28 L281.24,111.83 L281.43,111.38 L281.63,110.93 L281.82,110.49 L282.02,110.04 L282.21,109.60 L282.41,109.17 L282.60,108.73 L282.79,108.30 L282.99,107.87 L283.18,107.44 L283.38,107.01 L283.57,106.59 L283.76,106.17 L283.96,105.75 L284.15,105.33 L284.35,104.92 L284.54,104.50 L284.74,104.09 L284.93,103.68 L285.12,103.28 L285.32,102.87 L285.51,102.47 L285.71,102.07 L285.90,101.67 L286.10,101.28 L286.29,100.89 L286.48,100.49 L286.68,100.10 L286.87,99.72 L287.07,99.33 L287.26,98.95 L287.46,98.57 L287.65,98.19 L287.84,97.81 L288.04,97.44 L288.23,97.06 L288.43,96.69 L288.62,96.32 L288.81,95.95 L289.01,95.59 L289.20,95.23 L289.40,94.86 L289.59,94.50 L289.79,94.15 L289.98,93.79 L290.17,93.44 L290.37,93.08 L290.56,92.73 L290.76,92.38 L290.95,92.04 L291.15,91.69 L291.34,91.35 L291.53,91.01 L291.73,90.67 L291.92,90.33 L292.12,90.00 L292.31,89.66 L292.51,89.33 L292.70,89.00 L292.89,88.67 L293.09,88.35 L293.28,88.02 L293.48,87.70 L293.67,87.38 L293.86,87.06 L294.06,86.74 L294.25,86.42 L294.45,86.11 L294.64,85.79 L294.84,85.48 L295.03,85.17 L295.22,84.86 L295.42,84.56 L295.61,84.25 L295.81,83.95 L296.00,83.65 L296.20,83.35 L296.39,83.05 L296.58,82.75 L296.78,82.46 L296.97,82.16 L297.17,81.87 L297.36,81.58 L297.55,81.29 L297.75,81.00 L297.94,80.72 L298.14,80.43 L298.33,80.15 L298.53,79.87 L298.72,79.59 L298.91,79.31 L299.11,79.04 L299.30,78.76 L299.50,78.49 L299.69,78.21 L299.89,77.94 L300.08,77.67 L300.27,77.40 L300.47,77.14 L300.66,76.87 L300.86,76.61 L301.05,76.35 L301.25,76.08 L301.44,75.82 L301.63,75.57 L301.83,75.31 L302.02,75.05 L302.22,74.80 L302.41,74.55 L302.60,74.30 L302.80,74.05 L302.99,73.80 L303.19,73.55 L303.38,73.31 L303.58,73.06 L303.77,72.82 L303.96,72.58 L304.16,72.34 L304.35,72.10 L304.55,71.86 L304.74,71.63 L304.94,71.39 L305.13,71.16 L305.32,70.93 L305.52,70.70 L305.71,70.47 L305.91,70.24 L306.10,70.01 L306.30,69.79 L306.49,69.56 L306.68,69.34 L306.88,69.12 L307.07,68.90 L307.27,68.68 L307.46,68.46 L307.65,68.25 L307.85,68.03 L308.04,67.82 L308.24,67.61 L308.43,67.39 L308.63,67.18 L308.82,66.98 L309.01,66.77 L309.21,66.56 L309.40,66.36 L309.60,66.15 L309.79,65.95 L309.99,65.75 L310.18,65.55 L310.37,65.35 L310.57,65.15 L310.76,64.96 L310.96,64.76 L311.15,64.57 L311.34,64.38 L311.54,64.18 L311.73,63.99 L311.93,63.81 L312.12,63.62 L312.32,63.43 L312.51,63.24 L312.70,63.06 L312.90,62.88 L313.09,62.69 L313.29,62.51 L313.48,62.33 L313.68,62.15 L313.87,61.98 L314.06,61.80 L314.26,61.62 L314.45,61.45 L314.65,61.28 L314.84,61.10 L315.04,60.93 L315.23,60.76 L315.42,60.59 L315.62,60.43 L315.81,60.26 L316.01,60.09 L316.20,59.93 L316.39,59.77 L316.59,59.60 L316.78,59.44 L316.98,59.28 L317.17,59.12 L317.37,58.96 L317.56,58.81 L317.75,58.65 L317.95,58.49 L318.14,58.34 L318.34,58.19 L318.53,58.03 L318.73,57.88 L318.92,57.73 L319.11,57.58 L319.31,57.44 L319.50,57.29 L319.70,57.14 L319.89,57.00 L320.09,56.85 L320.28,56.71 L320.47,56.56 L320.67,56.42 L320.86,56.28 L321.06,56.14 L321.25,56.00 L321.44,55.87 L321.64,55.73 L321.83,55.59 L322.03,55.46 L322.22,55.32 L322.42,55.19 L322.61,55.06 L322.80,54.93 L323.00,54.79 L323.19,54.66 L323.39,54.54 L323.58,54.41 L323.78,54.28 L323.97,54.15 L324.16,54.03 L324.36,53.90 L324.55,53.78 L324.75,53.66 L324.94,53.53 L325.13,53.41 L325.33,53.29 L325.52,53.17 L325.72,53.05 L325.91,52.93 L326.11,52.82 L326.30,52.70 L326.49,52.59 L326.69,52.47 L326.88,52.36 L327.08,52.24 L327.27,52.13 L327.47,52.02 L327.66,51.91 L327.85,51.80 L328.05,51.69 L328.24,51.58 L328.44,51.47 L328.63,51.36 L328.83,51.26 L329.02,51.15 L329.21,51.05 L329.41,50.94 L329.60,50.84 L329.80,50.73 L329.99,50.63 L330.18,50.53 L330.38,50.43 L330.57,50.33 L330.77,50.23 L330.96,50.13 L331.16,50.03 L331.35,49.94 L331.54,49.84 L331.74,49.74 L331.93,49.65 L332.13,49.55 L332.32,49.46 L332.52,49.36 L332.71,49.27 L332.90,49.18 L333.10,49.09 L333.29,49.00 L333.49,48.91 L333.68,48.82 L333.88,48.73 L334.07,48.64 L334.26,48.55 L334.46,48.46 L334.65,48.38 L334.85,48.29 L335.04,48.21 L335.23,48.12 L335.43,48.04 L335.62,47.95 L335.82,47.87 L336.01,47.79 L336.21,47.70 L336.40,47.62 L336.59,47.54 L336.79,47.46 L336.98,47.38 L337.18,47.30 L337.37,47.22 L337.57,47.15 L337.76,47.07 L337.95,46.99 L338.15,46.91 L338.34,46.84 L338.54,46.76 L338.73,46.69 L338.92,46.61 L339.12,46.54 L339.31,46.47 L339.51,46.39 L339.70,46.32 L339.90,46.25 L340.09,46.18 L340.28,46.11 L340.48,46.03 L340.67,45.96 L340.87,45.89 L341.06,45.83 L341.26,45.76 L341.45,45.69 L341.64,45.62 L341.84,45.55 L342.03,45.49 L342.23,45.42 L342.42,45.35 L342.62,45.29 L342.81,45.22 L343.00,45.16 L343.20,45.10 L343.39,45.03 L343.59,44.97 L343.78,44.91 L343.97,44.84 L344.17,44.78 L344.36,44.72 L344.56,44.66 L344.75,44.60 L344.95,44.54 L345.14,44.48 L345.33,44.42 L345.53,44.36 L345.72,44.30 L345.92,44.24 L346.11,44.18 L346.31,44.13 L346.50,44.07 L346.69,44.01 L346.89,43.95 L347.08,43.90 L347.28,43.84 L347.47,43.79 L347.66,43.73 L347.86,43.68 L348.05,43.62 L348.25,43.57 L348.44,43.52 L348.64,43.46 L348.83,43.41 L349.02,43.36 L349.22,43.31 L349.41,43.25 L349.61,43.20 L349.80,43.15 L350.00,43.10 L350.19,43.05 L350.38,43.00 L350.58,42.95 L350.77,42.90 L350.97,42.85 L351.16,42.80 L351.36,42.76 L351.55,42.71 L351.74,42.66 L351.94,42.61 L352.13,42.57 L352.33,42.52 L352.52,42.47 L352.71,42.43 L352.91,42.38 L353.10,42.34 L353.30,42.29 L353.49,42.25 L353.69,42.20 L353.88,42.16 L354.07,42.11 L354.27,42.07 L354.46,42.02 L354.66,41.98 L354.85,41.94 L355.05,41.90 L355.24,41.85 L355.43,41.81 L355.63,41.77 L355.82,41.73 L356.02,41.69 L356.21,41.65 L356.41,41.61 L356.60,41.57 L356.79,41.53 L356.99,41.49 L357.18,41.45 L357.38,41.41 L357.57,41.37 L357.76,41.33 L357.96,41.29 L358.15,41.25 L358.35,41.21 L358.54,41.18 L358.74,41.14 L358.93,41.10 L359.12,41.06 L359.32,41.03 L359.51,40.99 L359.71,40.95 L359.90,40.92 L360.10,40.88 L360.29,40.85 L360.48,40.81 L360.68,40.78 L360.87,40.74 L361.07,40.71 L361.26,40.67 L361.45,40.64 L361.65,40.60 L361.84,40.57 L362.04,40.54 L362.23,40.50 L362.43,40.47 L362.62,40.44 L362.81,40.40 L363.01,40.37 L363.20,40.34 L363.40,40.31 L363.59,40.28 L363.79,40.24 L363.98,40.21 L364.17,40.18 L364.37,40.15 L364.56,40.12 L364.76,40.09 L364.95,40.06 L365.15,40.03 L365.34,40.00 L365.53,39.97 L365.73,39.94 L365.92,39.91 L366.12,39.88 L366.31,39.85 L366.50,39.82 L366.70,39.79 L366.89,39.77 L367.09,39.74 L367.28,39.71 L367.48,39.68 L367.67,39.65 L367.86,39.63 L368.06,39.60 L368.25,39.57 L368.45,39.55 L368.64,39.52 L368.84,39.49 L369.03,39.47 L369.22,39.44 L369.42,39.41 L369.61,39.39 L369.81,39.36 L370.00,39.34 L370.20,39.31 L370.39,39.29 L370.58,39.26 L370.78,39.24 L370.97,39.21 L371.17,39.19 L371.36,39.16 L371.55,39.14 L371.75,39.11 L371.94,39.09 L372.14,39.07 L372.33,39.04 L372.53,39.02 L372.72,39.00 L372.91,38.97 L373.11,38.95 L373.30,38.93 L373.50,38.91 L373.69,38.88 L373.89,38.86 L374.08,38.84 L374.27,38.82 L374.47,38.79 L374.66,38.77 L374.86,38.75 L375.05,38.73 L375.24,38.71 L375.44,38.69 L375.63,38.67 L375.83,38.65 L376.02,38.62 L376.22,38.60 L376.41,38.58 L376.60,38.56 L376.80,38.54 L376.99,38.52 L377.19,38.50 L377.38,38.48 L377.58,38.46 L377.77,38.44 L377.96,38.42 L378.16,38.40 L378.35,38.39 L378.55,38.37 L378.74,38.35 L378.94,38.33 L379.13,38.31 L379.32,38.29 L379.52,38.27 L379.71,38.25 L379.91,38.24 L380.10,38.22 L380.29,38.20 L380.49,38.18 L380.68,38.17 L380.88,38.15 L381.07,38.13 L381.27,38.11 L381.46,38.10 L381.65,38.08 L381.85,38.06 L382.04,38.04 L382.24,38.03 L382.43,38.01 L382.63,37.99 L382.82,37.98 L383.01,37.96 L383.21,37.95 L383.40,37.93 L383.60,37.91 L383.79,37.90 L383.99,37.88 L384.18,37.87 L384.37,37.85 L384.57,37.83 L384.76,37.82 L384.96,37.80 L385.15,37.79 L385.34,37.77 L385.54,37.76 L385.73,37.74 L385.93,37.73 L386.12,37.71 L386.32,37.70 L386.51,37.68 L386.70,37.67 L386.90,37.66 L387.09,37.64 L387.29,37.63 L387.48,37.61 L387.68,37.60 L387.87,37.59 L388.06,37.57 L388.26,37.56 L388.45,37.54 L388.65,37.53 L388.84,37.52 L389.03,37.50 L389.23,37.49 L389.42,37.48 L389.62,37.46 L389.81,37.45 L390.01,37.44 L390.20,37.43 L390.39,37.41 L390.59,37.40 L390.78,37.39 L390.98,37.38 L391.17,37.36 L391.37,37.35 L391.56,37.34 L391.75,37.33 L391.95,37.31 L392.14,37.30 L392.34,37.29 L392.53,37.28 L392.73,37.27 L392.92,37.25 L393.11,37.24 L393.31,37.23 L393.50,37.22 L393.70,37.21 L393.89,37.20 L394.08,37.19 L394.28,37.17 L394.47,37.16 L394.67,37.15 L394.86,37.14 L395.06,37.13 L395.25,37.12 L395.44,37.11 L395.64,37.10 L395.83,37.09 L396.03,37.08 L396.22,37.07 L396.42,37.06 L396.61,37.05 L396.80,37.03 L397.00,37.02 L397.19,37.01 L397.39,37.00 L397.58,36.99 L397.78,36.98 L397.97,36.97 L398.16,36.96 L398.36,36.95 L398.55,36.94 L398.75,36.93 L398.94,36.93 L399.13,36.92 L399.33,36.91 L399.52,36.90 L399.72,36.89 L399.91,36.88 L400.11,36.87 L400.30,36.86 L400.49,36.85 L400.69,36.84 L400.88,36.83 L401.08,36.82 L401.27,36.81 L401.47,36.80 L401.66,36.80 L401.85,36.79 L402.05,36.78 L402.24,36.77 L402.44,36.76 L402.63,36.75 L402.82,36.74 L403.02,36.73 L403.21,36.73 L403.41,36.72 L403.60,36.71 L403.80,36.70 L403.99,36.69 L404.18,36.68 L404.38,36.67 L404.57,36.67 L404.77,36.66 L404.96,36.65 L405.16,36.64 L405.35,36.63 L405.54,36.62 L405.74,36.62 L405.93,36.61 L406.13,36.60 L406.32,36.59 L406.52,36.58 L406.71,36.58 L406.90,36.57 L407.10,36.56 L407.29,36.55 L407.49,36.54 L407.68,36.54 L407.87,36.53 L408.07,36.52 L408.26,36.51 L408.46,36.51 L408.65,36.50 L408.85,36.49 L409.04,36.48 L409.23,36.47 L409.43,36.47 L409.62,36.46 L409.82,36.45 L410.01,36.44 L410.21,36.44 L410.40,36.43 L410.59,36.42 L410.79,36.42 L410.98,36.41 L411.18,36.40 L411.37,36.39 L411.57,36.39 L411.76,36.38 L411.95,36.37 L412.15,36.36 L412.34,36.36 L412.54,36.35 L412.73,36.34 L412.92,36.34 L413.12,36.33 L413.31,36.32 L413.51,36.31 L413.70,36.31 L413.90,36.30 L414.09,36.29 L414.28,36.29 L414.48,36.28 L414.67,36.27 L414.87,36.27 L415.06,36.26 L415.26,36.25 L415.45,36.25 L415.64,36.24 L415.84,36.23 L416.03,36.23 L416.23,36.22 L416.42,36.21 L416.61,36.20 L416.81,36.20 L417.00,36.19 L417.20,36.19 L417.39,36.18 L417.59,36.17 L417.78,36.17 L417.97,36.16 L418.17,36.15 L418.36,36.15 L418.56,36.14 L418.75,36.13 L418.95,36.13 L419.14,36.12 L419.33,36.11 L419.53,36.11 L419.72,36.10 L419.92,36.09 L420.11,36.09 L420.31,36.08 L420.50,36.08 L420.69,36.07 L420.89,36.06 L421.08,36.06 L421.28,36.05 L421.47,36.04 L421.66,36.04 L421.86,36.03 L422.05,36.03 L422.25,36.02 L422.44,36.01 L422.64,36.01 L422.83,36.00 L423.02,35.99 L423.22,35.99 L423.41,35.98 L423.61,35.98 L423.80,35.97 L424.00,35.96 L424.19,35.96 L424.38,35.95 L424.58,35.95 L424.77,35.94 L424.97,35.93 L425.16,35.93 L425.36,35.92 L425.55,35.92 L425.74,35.91 L425.94,35.91 L426.13,35.90 L426.33,35.89 L426.52,35.89 L426.71,35.88 L426.91,35.88 L427.10,35.87 L427.30,35.86 L427.49,35.86 L427.69,35.85 L427.88,35.85 L428.07,35.84 L428.27,35.84 L428.46,35.83 L428.66,35.82 L428.85,35.82 L429.05,35.81 L429.24,35.81 L429.43,35.80 L429.63,35.80 L429.82,35.79 L430.02,35.78 L430.21,35.78 L430.40,35.77 L430.60,35.77 L430.79,35.76 L430.99,35.76 L431.18,35.75 L431.38,35.75 L431.57,35.74 L431.76,35.73 L431.96,35.73 L432.15,35.72 L432.35,35.72 L432.54,35.71 L432.74,35.71 L432.93,35.70 L433.12,35.70 L433.32,35.69 L433.51,35.68 L433.71,35.68 L433.90,35.67 L434.10,35.67 L434.29,35.66 L434.48,35.66 L434.68,35.65 L434.87,35.65 L435.07,35.64 L435.26,35.64 L435.45,35.63 L435.65,35.63 L435.84,35.62 L436.04,35.62 L436.23,35.61 L436.43,35.60 L436.62,35.60 L436.81,35.59 L437.01,35.59 L437.20,35.58 L437.40,35.58 L437.59,35.57 L437.79,35.57 L437.98,35.56 L438.17,35.56 L438.37,35.55 L438.56,35.55 L438.76,35.54 L438.95,35.54 L439.14,35.53 L439.34,35.53 L439.53,35.52 L439.73,35.52 L439.92,35.51 L440.12,35.51 L440.31,35.50 L440.50,35.50 L440.70,35.49 L440.89,35.48 L441.09,35.48 L441.28,35.47 L441.48,35.47 L441.67,35.46 L441.86,35.46 L442.06,35.45 L442.25,35.45 L442.45,35.44 L442.64,35.44 L442.84,35.43 L443.03,35.43 L443.22,35.42 L443.42,35.42 L443.61,35.41 L443.81,35.41 L444.00,35.40 L444.19,35.40 L444.39,35.39 L444.58,35.39 L444.78,35.38 L444.97,35.38 L445.17,35.37 L445.36,35.37 L445.55,35.36 L445.75,35.36 L445.94,35.35 L446.14,35.35 L446.33,35.34 L446.53,35.34 L446.72,35.33 L446.91,35.33 L447.11,35.33 L447.30,35.32 L447.50,35.32 L447.69,35.31 L447.89,35.31 L448.08,35.30 L448.27,35.30 L448.47,35.29 L448.66,35.29 L448.86,35.28 L449.05,35.28 L449.24,35.27 L449.44,35.27 L449.63,35.26 L449.83,35.26 L450.02,35.25 L450.22,35.25 L450.41,35.24 L450.60,35.24 L450.80,35.23 L450.99,35.23 L451.19,35.22 L451.38,35.22 L451.58,35.21 L451.77,35.21 L451.96,35.20 L452.16,35.20 L452.35,35.20 L452.55,35.19 L452.74,35.19 L452.93,35.18 L453.13,35.18 L453.32,35.17 L453.52,35.17 L453.71,35.16 L453.91,35.16 L454.10,35.15 L454.29,35.15 L454.49,35.14 L454.68,35.14 L454.88,35.13 L455.07,35.13 L455.27,35.13 L455.46,35.12 L455.65,35.12 L455.85,35.11 L456.04,35.11 L456.24,35.10 L456.43,35.10 L456.63,35.09 L456.82,35.09 L457.01,35.08 L457.21,35.08 L457.40,35.07 L457.60,35.07 L457.79,35.07 L457.98,35.06 L458.18,35.06 L458.37,35.05 L458.57,35.05 L458.76,35.04 L458.96,35.04 L459.15,35.03 L459.34,35.03 L459.54,35.02 L459.73,35.02 L459.93,35.02 L460.12,35.01 L460.32,35.01 L460.51,35.00 L460.70,35.00 L460.90,34.99 L461.09,34.99 L461.29,34.98 L461.48,34.98 L461.68,34.98 L461.87,34.97 L462.06,34.97 L462.26,34.96 L462.45,34.96 L462.65,34.95 L462.84,34.95 L463.03,34.94 L463.23,34.94 L463.42,34.94 L463.62,34.93 L463.81,34.93 L464.01,34.92 L464.20,34.92" stroke="#77ac30" stroke-dasharray="1.4 5.495" stroke-dashoffset="0.15"/>
<path d="M114.59,179.10 L114.79,179.10 L114.98,179.10 L115.18,179.10 L115.37,179.10 L115.57,179.10 L115.76,179.10 L115.95,179.10 L116.15,179.10 L116.34,179.10 L116.54,179.10 L116.73,179.10 L116.93,179.10 L117.12,179.10 L117.31,179.10 L117.51,179.10 L117.70,179.10 L117.90,179.10 L118.09,179.10 L118.29,179.10 L118.48,179.10 L118.67,179.10 L118.87,179.10 L119.06,179.10 L119.26,179.10 L119.45,179.10 L119.64,179.10 L119.84,179.10 L120.03,179.10 L120.23,179.10 L120.42,179.10 L120.62,179.10 L120.81,179.10 L121.00,179.10 L121.20,179.10 L121.39,179.10 L121.59,179.10 L121.78,179.10 L121.98,179.10 L122.17,179.10 L122.36,179.10 L122.56,179.10 L122.75,179.10 L122.95,179.10 L123.14,179.10 L123.34,179.10 L123.53,179.10 L123.72,179.10 L123.92,179.11 L124.11,179.11 L124.31,179.11 L124.50,179.11 L124.69,179.11 L124.89,179.11 L125.08,179.11 L125.28,179.11 L125.47,179.11 L125.67,179.11 L125.86,179.11 L126.05,179.11 L126.25,179.11 L126.44,179.11 L126.64,179.11 L126.83,179.11 L127.03,179.11 L127.22,179.11 L127.41,179.11 L127.61,179.11 L127.80,179.11 L128.00,179.11 L128.19,179.11 L128.38,179.11 L128.58,179.11 L128.77,179.11 L128.97,179.11 L129.16,179.11 L129.36,179.11 L129.55,179.11 L129.74,179.11 L129.94,179.11 L130.13,179.11 L130.33,179.11 L130.52,179.11 L130.72,179.11 L130.91,179.11 L131.10,179.11 L131.30,179.11 L131.49,179.11 L131.69,179.12 L131.88,179.12 L132.08,179.12 L132.27,179.12 L132.46,179.12 L132.66,179.12 L132.85,179.12 L133.05,179.12 L133.24,179.12 L133.43,179.12 L133.63,179.12 L133.82,179.12 L134.02,179.12 L134.21,179.12 L134.41,179.12 L134.60,179.12 L134.79,179.12 L134.99,179.12 L135.18,179.12 L135.38,179.12 L135.57,179.12 L135.77,179.12 L135.96,179.12 L136.15,179.12 L136.35,179.12 L136.54,179.12 L136.74,179.12 L136.93,179.12 L137.13,179.12 L137.32,179.12 L137.51,179.12 L137.71,179.13 L137.90,179.13 L138.10,179.13 L138.29,179.13 L138.48,179.13 L138.68,179.13 L138.87,179.13 L139.07,179.13 L139.26,179.13 L139.46,179.13 L139.65,179.13 L139.84,179.13 L140.04,179.13 L140.23,179.13 L140.43,179.13 L140.62,179.13 L140.82,179.13 L141.01,179.13 L141.20,179.13 L141.40,179.13 L141.59,179.13 L141.79,179.13 L141.98,179.13 L142.17,179.13 L142.37,179.13 L142.56,179.13 L142.76,179.14 L142.95,179.14 L143.15,179.14 L143.34,179.14 L143.53,179.14 L143.73,179.14 L143.92,179.14 L144.12,179.14 L144.31,179.14 L144.51,179.14 L144.70,179.14 L144.89,179.14 L145.09,179.14 L145.28,179.14 L145.48,179.14 L145.67,179.14 L145.87,179.14 L146.06,179.14 L146.25,179.14 L146.45,179.14 L146.64,179.14 L146.84,179.14 L147.03,179.14 L147.22,179.14 L147.42,179.14 L147.61,179.15 L147.81,179.15 L148.00,179.15 L148.20,179.15 L148.39,179.15 L148.58,179.15 L148.78,179.15 L148.97,179.15 L149.17,179.15 L149.36,179.15 L149.56,179.15 L149.75,179.15 L149.94,179.15 L150.14,179.15 L150.33,179.15 L150.53,179.15 L150.72,179.15 L150.92,179.15 L151.11,179.15 L151.30,179.15 L151.50,179.15 L151.69,179.15 L151.89,179.15 L152.08,179.15 L152.27,179.15 L152.47,179.16 L152.66,179.16 L152.86,179.16 L153.05,179.16 L153.25,179.16 L153.44,179.16 L153.63,179.16 L153.83,179.16 L154.02,179.16 L154.22,179.16 L154.41,179.16 L154.61,179.16 L154.80,179.16 L154.99,179.16 L155.19,179.16 L155.38,179.16 L155.58,179.16 L155.77,179.16 L155.96,179.16 L156.16,179.16 L156.35,179.16 L156.55,179.16 L156.74,179.17 L156.94,179.17 L157.13,179.17 L157.32,179.17 L157.52,179.17 L157.71,179.17 L157.91,179.17 L158.10,179.17 L158.30,179.17 L158.49,179.17 L158.68,179.17 L158.88,179.17 L159.07,179.17 L159.27,179.17 L159.46,179.17 L159.66,179.17 L159.85,179.18 L160.04,179.18 L160.24,179.18 L160.43,179.18 L160.63,179.18 L160.82,179.18 L161.01,179.18 L161.21,179.18 L161.40,179.18 L161.60,179.18 L161.79,179.18 L161.99,179.18 L162.18,179.19 L162.37,179.19 L162.57,179.19 L162.76,179.19 L162.96,179.19 L163.15,179.19 L163.35,179.19 L163.54,179.19 L163.73,179.19 L163.93,179.19 L164.12,179.19 L164.32,179.20 L164.51,179.20 L164.71,179.20 L164.90,179.20 L165.09,179.20 L165.29,179.20 L165.48,179.20 L165.68,179.20 L165.87,179.21 L166.06,179.21 L166.26,179.21 L166.45,179.21 L166.65,179.22 L166.84,179.22 L167.04,179.22 L167.23,179.22 L167.42,179.23 L167.62,179.23 L167.81,179.23 L168.01,179.24 L168.20,179.24 L168.40,179.24 L168.59,179.25 L168.78,179.25 L168.98,179.25 L169.17,179.26 L169.37,179.26 L169.56,179.26 L169.75,179.27 L169.95,179.27 L170.14,179.28 L170.34,179.28 L170.53,179.29 L170.73,179.29 L170.92,179.29 L171.11,179.30 L171.31,179.30 L171.50,179.31 L171.70,179.31 L171.89,179.32 L172.09,179.32 L172.28,179.33 L172.47,179.33 L172.67,179.34 L172.86,179.34 L173.06,179.35 L173.25,179.35 L173.45,179.36 L173.64,179.36 L173.83,179.37 L174.03,179.37 L174.22,179.38 L174.42,179.38 L174.61,179.39 L174.80,179.39 L175.00,179.40 L175.19,179.41 L175.39,179.41 L175.58,179.42 L175.78,179.42 L175.97,179.43 L176.16,179.43 L176.36,179.44 L176.55,179.45 L176.75,179.45 L176.94,179.46 L177.14,179.47 L177.33,179.47 L177.52,179.48 L177.72,179.49 L177.91,179.50 L178.11,179.50 L178.30,179.51 L178.50,179.52 L178.69,179.53 L178.88,179.54 L179.08,179.54 L179.27,179.55 L179.47,179.56 L179.66,179.57 L179.85,179.58 L180.05,179.59 L180.24,179.59 L180.44,179.60 L180.63,179.61 L180.83,179.62 L181.02,179.63 L181.21,179.64 L181.41,179.65 L181.60,179.65 L181.80,179.66 L181.99,179.67 L182.19,179.68 L182.38,179.69 L182.57,179.70 L182.77,179.71 L182.96,179.72 L183.16,179.73 L183.35,179.74 L183.54,179.74 L183.74,179.75 L183.93,179.76 L184.13,179.77 L184.32,179.78 L184.52,179.79 L184.71,179.80 L184.90,179.81 L185.10,179.82 L185.29,179.83 L185.49,179.84 L185.68,179.86 L185.88,179.87 L186.07,179.88 L186.26,179.89 L186.46,179.90 L186.65,179.91 L186.85,179.92 L187.04,179.93 L187.24,179.94 L187.43,179.95 L187.62,179.96 L187.82,179.97 L188.01,179.99 L188.21,180.00 L188.40,180.01 L188.59,180.02 L188.79,180.03 L188.98,180.04 L189.18,180.05 L189.37,180.06 L189.57,180.08 L189.76,180.09 L189.95,180.10 L190.15,180.11 L190.34,180.12 L190.54,180.13 L190.73,180.14 L190.93,180.15 L191.12,180.16 L191.31,180.17 L191.51,180.18 L191.70,180.19 L191.90,180.20 L192.09,180.22 L192.28,180.23 L192.48,180.24 L192.67,180.25 L192.87,180.26 L193.06,180.27 L193.26,180.28 L193.45,180.29 L193.64,180.31 L193.84,180.32 L194.03,180.33 L194.23,180.35 L194.42,180.36 L194.62,180.37 L194.81,180.39 L195.00,180.40 L195.20,180.42 L195.39,180.43 L195.59,180.45 L195.78,180.46 L195.98,180.48 L196.17,180.50 L196.36,180.52 L196.56,180.54 L196.75,180.56 L196.95,180.57 L197.14,180.59 L197.33,180.61 L197.53,180.64 L197.72,180.66 L197.92,180.68 L198.11,180.70 L198.31,180.72 L198.50,180.74 L198.69,180.76 L198.89,180.78 L199.08,180.80 L199.28,180.82 L199.47,180.84 L199.67,180.87 L199.86,180.89 L200.05,180.91 L200.25,180.93 L200.44,180.95 L200.64,180.97 L200.83,180.99 L201.03,181.01 L201.22,181.03 L201.41,181.05 L201.61,181.07 L201.80,181.09 L202.00,181.11 L202.19,181.14 L202.38,181.16 L202.58,181.18 L202.77,181.20 L202.97,181.22 L203.16,181.24 L203.36,181.26 L203.55,181.29 L203.74,181.31 L203.94,181.33 L204.13,181.35 L204.33,181.37 L204.52,181.39 L204.72,181.41 L204.91,181.43 L205.10,181.46 L205.30,181.48 L205.49,181.50 L205.69,181.52 L205.88,181.54 L206.07,181.56 L206.27,181.58 L206.46,181.60 L206.66,181.62 L206.85,181.63 L207.05,181.65 L207.24,181.67 L207.43,181.69 L207.63,181.71 L207.82,181.73 L208.02,181.75 L208.21,181.76 L208.41,181.78 L208.60,181.80 L208.79,181.82 L208.99,181.84 L209.18,181.85 L209.38,181.87 L209.57,181.89 L209.77,181.90 L209.96,181.92 L210.15,181.94 L210.35,181.96 L210.54,181.97 L210.74,181.99 L210.93,182.01 L211.12,182.03 L211.32,182.04 L211.51,182.06 L211.71,182.08 L211.90,182.10 L212.10,182.12 L212.29,182.13 L212.48,182.15 L212.68,182.17 L212.87,182.19 L213.07,182.21 L213.26,182.23 L213.46,182.25 L213.65,182.26 L213.84,182.28 L214.04,182.30 L214.23,182.32 L214.43,182.34 L214.62,182.36 L214.82,182.38 L215.01,182.40 L215.20,182.42 L215.40,182.45 L215.59,182.47 L215.79,182.49 L215.98,182.51 L216.17,182.53 L216.37,182.55 L216.56,182.57 L216.76,182.59 L216.95,182.61 L217.15,182.63 L217.34,182.66 L217.53,182.68 L217.73,182.70 L217.92,182.72 L218.12,182.74 L218.31,182.77 L218.51,182.79 L218.70,182.81 L218.89,182.83 L219.09,182.85 L219.28,182.88 L219.48,182.90 L219.67,182.92 L219.86,182.94 L220.06,182.97 L220.25,182.99 L220.45,183.01 L220.64,183.04 L220.84,183.06 L221.03,183.08 L221.22,183.11 L221.42,183.13 L221.61,183.15 L221.81,183.18 L222.00,183.20 L222.20,183.22 L222.39,183.25 L222.58,183.27 L222.78,183.30 L222.97,183.32 L223.17,183.34 L223.36,183.37 L223.56,183.39 L223.75,183.42 L223.94,183.44 L224.14,183.47 L224.33,183.49 L224.53,183.52 L224.72,183.54 L224.91,183.57 L225.11,183.59 L225.30,183.62 L225.50,183.64 L225.69,183.67 L225.89,183.69 L226.08,183.72 L226.27,183.74 L226.47,183.77 L226.66,183.79 L226.86,183.82 L227.05,183.85 L227.25,183.87 L227.44,183.90 L227.63,183.92 L227.83,183.95 L228.02,183.98 L228.22,184.00 L228.41,184.03 L228.61,184.05 L228.80,184.08 L228.99,184.11 L229.19,184.13 L229.38,184.16 L229.58,184.19 L229.77,184.21 L229.96,184.24 L230.16,184.27 L230.35,184.29 L230.55,184.32 L230.74,184.35 L230.94,184.37 L231.13,184.40 L231.32,184.43 L231.52,184.46 L231.71,184.48 L231.91,184.51 L232.10,184.54 L232.30,184.56 L232.49,184.59 L232.68,184.62 L232.88,184.65 L233.07,184.67 L233.27,184.70 L233.46,184.73 L233.65,184.75 L233.85,184.78 L234.04,184.81 L234.24,184.84 L234.43,184.86 L234.63,184.89 L234.82,184.92 L235.01,184.95 L235.21,184.97 L235.40,185.00 L235.60,185.03 L235.79,185.06 L235.99,185.09 L236.18,185.11 L236.37,185.14 L236.57,185.17 L236.76,185.20 L236.96,185.22 L237.15,185.25 L237.35,185.28 L237.54,185.31 L237.73,185.33 L237.93,185.36 L238.12,185.39 L238.32,185.42 L238.51,185.44 L238.70,185.47 L238.90,185.50 L239.09,185.53 L239.29,185.56 L239.48,185.59 L239.68,185.61 L239.87,185.64 L240.06,185.67 L240.26,185.70 L240.45,185.73 L240.65,185.76 L240.84,185.79 L241.04,185.82 L241.23,185.85 L241.42,185.88 L241.62,185.91 L241.81,185.94 L242.01,185.97 L242.20,186.00 L242.40,186.03 L242.59,186.06 L242.78,186.09 L242.98,186.12 L243.17,186.15 L243.37,186.18 L243.56,186.21 L243.75,186.24 L243.95,186.27 L244.14,186.30 L244.34,186.33 L244.53,186.36 L244.73,186.39 L244.92,186.42 L245.11,186.45 L245.31,186.48 L245.50,186.51 L245.70,186.54 L245.89,186.57 L246.09,186.60 L246.28,186.63 L246.47,186.66 L246.67,186.69 L246.86,186.72 L247.06,186.75 L247.25,186.78 L247.44,186.81 L247.64,186.84 L247.83,186.87 L248.03,186.90 L248.22,186.93 L248.42,186.96 L248.61,186.99 L248.80,187.02 L249.00,187.05 L249.19,187.08 L249.39,187.11 L249.58,187.14 L249.78,187.17 L249.97,187.19 L250.16,187.22 L250.36,187.25 L250.55,187.28 L250.75,187.31 L250.94,187.34 L251.14,187.37 L251.33,187.39 L251.52,187.42 L251.72,187.45 L251.91,187.48 L252.11,187.50 L252.30,187.53 L252.49,187.56 L252.69,187.58 L252.88,187.61 L253.08,187.64 L253.27,187.66 L253.47,187.69 L253.66,187.72 L253.85,187.74 L254.05,187.77 L254.24,187.79 L254.44,187.82 L254.63,187.84 L254.83,187.87 L255.02,187.89 L255.21,187.92 L255.41,187.94 L255.60,187.97 L255.80,187.99 L255.99,188.02 L256.19,188.04 L256.38,188.06 L256.57,188.09 L256.77,188.11 L256.96,188.14 L257.16,188.16 L257.35,188.18 L257.54,188.21 L257.74,188.23 L257.93,188.25 L258.13,188.28 L258.32,188.30 L258.52,188.32 L258.71,188.34 L258.90,188.37 L259.10,188.39 L259.29,188.41 L259.49,188.43 L259.68,188.45 L259.88,188.48 L260.07,188.50 L260.26,188.52 L260.46,188.54 L260.65,188.56 L260.85,188.58 L261.04,188.60 L261.23,188.62 L261.43,188.64 L261.62,188.66 L261.82,188.68 L262.01,188.70 L262.21,188.72 L262.40,188.74 L262.59,188.76 L262.79,188.78 L262.98,188.80 L263.18,188.82 L263.37,188.84 L263.57,188.86 L263.76,188.88 L263.95,188.90 L264.15,188.92 L264.34,188.94 L264.54,188.95 L264.73,188.97 L264.93,188.99 L265.12,189.01 L265.31,189.03 L265.51,189.05 L265.70,189.07 L265.90,189.08 L266.09,189.10 L266.28,189.12 L266.48,189.14 L266.67,189.16 L266.87,189.17 L267.06,189.19 L267.26,189.21 L267.45,189.22 L267.64,189.24 L267.84,189.25 L268.03,189.27 L268.23,189.28 L268.42,189.30 L268.62,189.31 L268.81,189.33 L269.00,189.34 L269.20,189.35 L269.39,189.36 L269.59,189.38 L269.78,189.39 L269.98,189.40 L270.17,189.41 L270.36,189.42 L270.56,189.43 L270.75,189.44 L270.95,189.45 L271.14,189.46 L271.33,189.47 L271.53,189.48 L271.72,189.49 L271.92,189.50 L272.11,189.51 L272.31,189.52 L272.50,189.53 L272.69,189.54 L272.89,189.55 L273.08,189.56 L273.28,189.56 L273.47,189.57 L273.67,189.58 L273.86,189.59 L274.05,189.60 L274.25,189.61 L274.44,189.61 L274.64,189.62 L274.83,189.63 L275.02,189.64 L275.22,189.64 L275.41,189.65 L275.61,189.66 L275.80,189.67 L276.00,189.67 L276.19,189.68 L276.38,189.69 L276.58,189.69 L276.77,189.70 L276.97,189.71 L277.16,189.71 L277.36,189.72 L277.55,189.73 L277.74,189.73 L277.94,189.74 L278.13,189.75 L278.33,189.75 L278.52,189.76 L278.72,189.76 L278.91,189.77 L279.10,189.78 L279.30,189.78 L279.49,189.79 L279.69,189.79 L279.88,189.80 L280.07,189.80 L280.27,189.81 L280.46,189.81 L280.66,189.82 L280.85,189.82 L281.05,189.83 L281.24,189.83 L281.43,189.84 L281.63,189.84 L281.82,189.85 L282.02,189.85 L282.21,189.86 L282.41,189.86 L282.60,189.87 L282.79,189.87 L282.99,189.88 L283.18,189.88 L283.38,189.88 L283.57,189.89 L283.76,189.89 L283.96,189.90 L284.15,189.90 L284.35,189.91 L284.54,189.91 L284.74,189.91 L284.93,189.92 L285.12,189.92 L285.32,189.93 L285.51,189.93 L285.71,189.93 L285.90,189.94 L286.10,189.94 L286.29,189.94 L286.48,189.95 L286.68,189.95 L286.87,189.96 L287.07,189.96 L287.26,189.96 L287.46,189.97 L287.65,189.97 L287.84,189.97 L288.04,189.97 L288.23,189.98 L288.43,189.98 L288.62,189.98 L288.81,189.99 L289.01,189.99 L289.20,189.99 L289.40,189.99 L289.59,190.00 L289.79,190.00 L289.98,190.00 L290.17,190.00 L290.37,190.00 L290.56,190.01 L290.76,190.01 L290.95,190.01 L291.15,190.01 L291.34,190.01 L291.53,190.02 L291.73,190.02 L291.92,190.02 L292.12,190.02 L292.31,190.02 L292.51,190.03 L292.70,190.03 L292.89,190.03 L293.09,190.03 L293.28,190.03 L293.48,190.04 L293.67,190.04 L293.86,190.04 L294.06,190.04 L294.25,190.04 L294.45,190.04 L294.64,190.05 L294.84,190.05 L295.03,190.05 L295.22,190.05 L295.42,190.05 L295.61,190.06 L295.81,190.06 L296.00,190.06 L296.20,190.06 L296.39,190.06 L296.58,190.06 L296.78,190.07 L296.97,190.07 L297.17,190.07 L297.36,190.07 L297.55,190.07 L297.75,190.07 L297.94,190.08 L298.14,190.08 L298.33,190.08 L298.53,190.08 L298.72,190.08 L298.91,190.08 L299.11,190.08 L299.30,190.09 L299.50,190.09 L299.69,190.09 L299.89,190.09 L300.08,190.09 L300.27,190.09 L300.47,190.10 L300.66,190.10 L300.86,190.10 L301.05,190.10 L301.25,190.10 L301.44,190.10 L301.63,190.10 L301.83,190.11 L302.02,190.11 L302.22,190.11 L302.41,190.11 L302.60,190.11 L302.80,190.11 L302.99,190.11 L303.19,190.11 L303.38,190.12 L303.58,190.12 L303.77,190.12 L303.96,190.12 L304.16,190.12 L304.35,190.12 L304.55,190.12 L304.74,190.12 L304.94,190.13 L305.13,190.13 L305.32,190.13 L305.52,190.13 L305.71,190.13 L305.91,190.13 L306.10,190.13 L306.30,190.13 L306.49,190.14 L306.68,190.14 L306.88,190.14 L307.07,190.14 L307.27,190.14 L307.46,190.14 L307.65,190.14 L307.85,190.14 L308.04,190.14 L308.24,190.15 L308.43,190.15 L308.63,190.15 L308.82,190.15 L309.01,190.15 L309.21,190.15 L309.40,190.15 L309.60,190.15 L309.79,190.15 L309.99,190.15 L310.18,190.16 L310.37,190.16 L310.57,190.16 L310.76,190.16 L310.96,190.16 L311.15,190.16 L311.34,190.16 L311.54,190.16 L311.73,190.16 L311.93,190.16 L312.12,190.17 L312.32,190.17 L312.51,190.17 L312.70,190.17 L312.90,190.17 L313.09,190.17 L313.29,190.17 L313.48,190.17 L313.68,190.17 L313.87,190.17 L314.06,190.17 L314.26,190.18 L314.45,190.18 L314.65,190.18 L314.84,190.18 L315.04,190.18 L315.23,190.18 L315.42,190.18 L315.62,190.18 L315.81,190.18 L316.01,190.18 L316.20,190.18 L316.39,190.19 L316.59,190.19 L316.78,190.19 L316.98,190.19 L317.17,190.19 L317.37,190.19 L317.56,190.19 L317.75,190.19 L317.95,190.19 L318.14,190.19 L318.34,190.19 L318.53,190.19 L318.73,190.19 L318.92,190.20 L319.11,190.20 L319.31,190.20 L319.50,190.20 L319.70,190.20 L319.89,190.20 L320.09,190.20 L320.28,190.20 L320.47,190.20 L320.67,190.20 L320.86,190.20 L321.06,190.20 L321.25,190.20 L321.44,190.21 L321.64,190.21 L321.83,190.21 L322.03,190.21 L322.22,190.21 L322.42,190.21 L322.61,190.21 L322.80,190.21 L323.00,190.21 L323.19,190.21 L323.39,190.21 L323.58,190.21 L323.78,190.21 L323.97,190.22 L324.16,190.22 L324.36,190.22 L324.55,190.22 L324.75,190.22 L324.94,190.22 L325.13,190.22 L325.33,190.22 L325.52,190.22 L325.72,190.22 L325.91,190.22 L326.11,190.22 L326.30,190.22 L326.49,190.23 L326.69,190.23 L326.88,190.23 L327.08,190.23 L327.27,190.23 L327.47,190.23 L327.66,190.23 L327.85,190.23 L328.05,190.23 L328.24,190.23 L328.44,190.23 L328.63,190.23 L328.83,190.23 L329.02,190.23 L329.21,190.24 L329.41,190.24 L329.60,190.24 L329.80,190.24 L329.99,190.24 L330.18,190.24 L330.38,190.24 L330.57,190.24 L330.77,190.24 L330.96,190.24 L331.16,190.24 L331.35,190.24 L331.54,190.24 L331.74,190.25 L331.93,190.25 L332.13,190.25 L332.32,190.25 L332.52,190.25 L332.71,190.25 L332.90,190.25 L333.10,190.25 L333.29,190.25 L333.49,190.25 L333.68,190.25 L333.88,190.25 L334.07,190.25 L334.26,190.25 L334.46,190.26 L334.65,190.26 L334.85,190.26 L335.04,190.26 L335.23,190.26 L335.43,190.26 L335.62,190.26 L335.82,190.26 L336.01,190.26 L336.21,190.26 L336.40,190.26 L336.59,190.26 L336.79,190.26 L336.98,190.26 L337.18,190.27 L337.37,190.27 L337.57,190.27 L337.76,190.27 L337.95,190.27 L338.15,190.27 L338.34,190.27 L338.54,190.27 L338.73,190.27 L338.92,190.27 L339.12,190.27 L339.31,190.27 L339.51,190.27 L339.70,190.27 L339.90,190.27 L340.09,190.28 L340.28,190.28 L340.48,190.28 L340.67,190.28 L340.87,190.28 L341.06,190.28 L341.26,190.28 L341.45,190.28 L341.64,190.28 L341.84,190.28 L342.03,190.28 L342.23,190.28 L342.42,190.28 L342.62,190.28 L342.81,190.29 L343.00,190.29 L343.20,190.29 L343.39,190.29 L343.59,190.29 L343.78,190.29 L343.97,190.29 L344.17,190.29 L344.36,190.29 L344.56,190.29 L344.75,190.29 L344.95,190.29 L345.14,190.29 L345.33,190.29 L345.53,190.29 L345.72,190.29 L345.92,190.30 L346.11,190.30 L346.31,190.30 L346.50,190.30 L346.69,190.30 L346.89,190.30 L347.08,190.30 L347.28,190.30 L347.47,190.30 L347.66,190.30 L347.86,190.30 L348.05,190.30 L348.25,190.30 L348.44,190.30 L348.64,190.30 L348.83,190.31 L349.02,190.31 L349.22,190.31 L349.41,190.31 L349.61,190.31 L349.80,190.31 L350.00,190.31 L350.19,190.31 L350.38,190.31 L350.58,190.31 L350.77,190.31 L350.97,190.31 L351.16,190.31 L351.36,190.31 L351.55,190.31 L351.74,190.31 L351.94,190.32 L352.13,190.32 L352.33,190.32 L352.52,190.32 L352.71,190.32 L352.91,190.32 L353.10,190.32 L353.30,190.32 L353.49,190.32 L353.69,190.32 L353.88,190.32 L354.07,190.32 L354.27,190.32 L354.46,190.32 L354.66,190.32 L354.85,190.32 L355.05,190.32 L355.24,190.33 L355.43,190.33 L355.63,190.33 L355.82,190.33 L356.02,190.33 L356.21,190.33 L356.41,190.33 L356.60,190.33 L356.79,190.33 L356.99,190.33 L357.18,190.33 L357.38,190.33 L357.57,190.33 L357.76,190.33 L357.96,190.33 L358.15,190.33 L358.35,190.33 L358.54,190.33 L358.74,190.34 L358.93,190.34 L359.12,190.34 L359.32,190.34 L359.51,190.34 L359.71,190.34 L359.90,190.34 L360.10,190.34 L360.29,190.34 L360.48,190.34 L360.68,190.34 L360.87,190.34 L361.07,190.34 L361.26,190.34 L361.45,190.34 L361.65,190.34 L361.84,190.34 L362.04,190.34 L362.23,190.35 L362.43,190.35 L362.62,190.35 L362.81,190.35 L363.01,190.35 L363.20,190.35 L363.40,190.35 L363.59,190.35 L363.79,190.35 L363.98,190.35 L364.17,190.35 L364.37,190.35 L364.56,190.35 L364.76,190.35 L364.95,190.35 L365.15,190.35 L365.34,190.35 L365.53,190.35 L365.73,190.35 L365.92,190.35 L366.12,190.36 L366.31,190.36 L366.50,190.36 L366.70,190.36 L366.89,190.36 L367.09,190.36 L367.28,190.36 L367.48,190.36 L367.67,190.36 L367.86,190.36 L368.06,190.36 L368.25,190.36 L368.45,190.36 L368.64,190.36 L368.84,190.36 L369.03,190.36 L369.22,190.36 L369.42,190.36 L369.61,190.36 L369.81,190.36 L370.00,190.36 L370.20,190.36 L370.39,190.37 L370.58,190.37 L370.78,190.37 L370.97,190.37 L371.17,190.37 L371.36,190.37 L371.55,190.37 L371.75,190.37 L371.94,190.37 L372.14,190.37 L372.33,190.37 L372.53,190.37 L372.72,190.37 L372.91,190.37 L373.11,190.37 L373.30,190.37 L373.50,190.37 L373.69,190.37 L373.89,190.37 L374.08,190.37 L374.27,190.37 L374.47,190.37 L374.66,190.37 L374.86,190.37 L375.05,190.37 L375.24,190.38 L375.44,190.38 L375.63,190.38 L375.83,190.38 L376.02,190.38 L376.22,190.38 L376.41,190.38 L376.60,190.38 L376.80,190.38 L376.99,190.38 L377.19,190.38 L377.38,190.38 L377.58,190.38 L377.77,190.38 L377.96,190.38 L378.16,190.38 L378.35,190.38 L378.55,190.38 L378.74,190.38 L378.94,190.38 L379.13,190.38 L379.32,190.38 L379.52,190.38 L379.71,190.38 L379.91,190.38 L380.10,190.38 L380.29,190.38 L380.49,190.38 L380.68,190.38 L380.88,190.38 L381.07,190.39 L381.27,190.39 L381.46,190.39 L381.65,190.39 L381.85,190.39 L382.04,190.39 L382.24,190.39 L382.43,190.39 L382.63,190.39 L382.82,190.39 L383.01,190.39 L383.21,190.39 L383.40,190.39 L383.60,190.39 L383.79,190.39 L383.99,190.39 L384.18,190.39 L384.37,190.39 L384.57,190.39 L384.76,190.39 L384.96,190.39 L385.15,190.39 L385.34,190.39 L385.54,190.39 L385.73,190.39 L385.93,190.39 L386.12,190.39 L386.32,190.39 L386.51,190.39 L386.70,190.39 L386.90,190.39 L387.09,190.39 L387.29,190.39 L387.48,190.39 L387.68,190.39 L387.87,190.39 L388.06,190.39 L388.26,190.39 L388.45,190.39 L388.65,190.39 L388.84,190.39 L389.03,190.39 L389.23,190.40 L389.42,190.40 L389.62,190.40 L389.81,190.40 L390.01,190.40 L390.20,190.40 L390.39,190.40 L390.59,190.40 L390.78,190.40 L390.98,190.40 L391.17,190.40 L391.37,190.40 L391.56,190.40 L391.75,190.40 L391.95,190.40 L392.14,190.40 L392.34,190.40 L392.53,190.40 L392.73,190.40 L392.92,190.40 L393.11,190.40 L393.31,190.40 L393.50,190.40 L393.70,190.40 L393.89,190.40 L394.08,190.40 L394.28,190.40 L394.47,190.40 L394.67,190.40 L394.86,190.40 L395.06,190.40 L395.25,190.40 L395.44,190.40 L395.64,190.40 L395.83,190.40 L396.03,190.40 L396.22,190.40 L396.42,190.40 L396.61,190.40 L396.80,190.40 L397.00,190.40 L397.19,190.40 L397.39,190.40 L397.58,190.40 L397.78,190.40 L397.97,190.40 L398.16,190.40 L398.36,190.40 L398.55,190.40 L398.75,190.40 L398.94,190.40 L399.13,190.40 L399.33,190.40 L399.52,190.40 L399.72,190.40 L399.91,190.40 L400.11,190.40 L400.30,190.40 L400.49,190.40 L400.69,190.40 L400.88,190.40 L401.08,190.40 L401.27,190.40 L401.47,190.40 L401.66,190.40 L401.85,190.40 L402.05,190.40 L402.24,190.40 L402.44,190.40 L402.63,190.40 L402.82,190.40 L403.02,190.40 L403.21,190.40 L403.41,190.40 L403.60,190.40 L403.80,190.40 L403.99,190.40 L404.18,190.40 L404.38,190.40 L404.57,190.40 L404.77,190.40 L404.96,190.39 L405.16,190.39 L405.35,190.39 L405.54,190.39 L405.74,190.39 L405.93,190.39 L406.13,190.39 L406.32,190.39 L406.52,190.39 L406.71,190.39 L406.90,190.39 L407.10,190.39 L407.29,190.39 L407.49,190.39 L407.68,190.39 L407.87,190.39 L408.07,190.39 L408.26,190.39 L408.46,190.39 L408.65,190.38 L408.85,190.38 L409.04,190.38 L409.23,190.38 L409.43,190.38 L409.62,190.38 L409.82,190.38 L410.01,190.38 L410.21,190.38 L410.40,190.38 L410.59,190.38 L410.79,190.38 L410.98,190.38 L411.18,190.38 L411.37,190.37 L411.57,190.37 L411.76,190.37 L411.95,190.37 L412.15,190.37 L412.34,190.37 L412.54,190.37 L412.73,190.37 L412.92,190.37 L413.12,190.37 L413.31,190.37 L413.51,190.36 L413.70,190.36 L413.90,190.36 L414.09,190.36 L414.28,190.36 L414.48,190.36 L414.67,190.36 L414.87,190.36 L415.06,190.36 L415.26,190.35 L415.45,190.35 L415.64,190.35 L415.84,190.35 L416.03,190.35 L416.23,190.35 L416.42,190.35 L416.61,190.35 L416.81,190.35 L417.00,190.34 L417.20,190.34 L417.39,190.34 L417.59,190.34 L417.78,190.34 L417.97,190.34 L418.17,190.34 L418.36,190.34 L418.56,190.33 L418.75,190.33 L418.95,190.33 L419.14,190.33 L419.33,190.33 L419.53,190.33 L419.72,190.33 L419.92,190.32 L420.11,190.32 L420.31,190.32 L420.50,190.32 L420.69,190.32 L420.89,190.32 L421.08,190.32 L421.28,190.31 L421.47,190.31 L421.66,190.31 L421.86,190.31 L422.05,190.31 L422.25,190.31 L422.44,190.31 L422.64,190.30 L422.83,190.30 L423.02,190.30 L423.22,190.30 L423.41,190.30 L423.61,190.30 L423.80,190.29 L424.00,190.29 L424.19,190.29 L424.38,190.29 L424.58,190.29 L424.77,190.29 L424.97,190.29 L425.16,190.28 L425.36,190.28 L425.55,190.28 L425.74,190.28 L425.94,190.28 L426.13,190.27 L426.33,190.27 L426.52,190.27 L426.71,190.27 L426.91,190.27 L427.10,190.27 L427.30,190.26 L427.49,190.26 L427.69,190.26 L427.88,190.26 L428.07,190.26 L428.27,190.26 L428.46,190.25 L428.66,190.25 L428.85,190.25 L429.05,190.25 L429.24,190.25 L429.43,190.24 L429.63,190.24 L429.82,190.24 L430.02,190.24 L430.21,190.24 L430.40,190.23 L430.60,190.23 L430.79,190.23 L430.99,190.23 L431.18,190.23 L431.38,190.22 L431.57,190.22 L431.76,190.22 L431.96,190.22 L432.15,190.22 L432.35,190.21 L432.54,190.21 L432.74,190.21 L432.93,190.21 L433.12,190.21 L433.32,190.20 L433.51,190.20 L433.71,190.20 L433.90,190.20 L434.10,190.20 L434.29,190.19 L434.48,190.19 L434.68,190.19 L434.87,190.19 L435.07,190.19 L435.26,190.18 L435.45,190.18 L435.65,190.18 L435.84,190.18 L436.04,190.17 L436.23,190.17 L436.43,190.17 L436.62,190.17 L436.81,190.17 L437.01,190.16 L437.20,190.16 L437.40,190.16 L437.59,190.16 L437.79,190.15 L437.98,190.15 L438.17,190.15 L438.37,190.15 L438.56,190.15 L438.76,190.14 L438.95,190.14 L439.14,190.14 L439.34,190.14 L439.53,190.13 L439.73,190.13 L439.92,190.13 L440.12,190.13 L440.31,190.13 L440.50,190.12 L440.70,190.12 L440.89,190.12 L441.09,190.12 L441.28,190.11 L441.48,190.11 L441.67,190.11 L441.86,190.11 L442.06,190.10 L442.25,190.10 L442.45,190.10 L442.64,190.10 L442.84,190.09 L443.03,190.09 L443.22,190.09 L443.42,190.09 L443.61,190.08 L443.81,190.08 L444.00,190.08 L444.19,190.08 L444.39,190.07 L444.58,190.07 L444.78,190.07 L444.97,190.07 L445.17,190.06 L445.36,190.06 L445.55,190.06 L445.75,190.06 L445.94,190.05 L446.14,190.05 L446.33,190.05 L446.53,190.05 L446.72,190.04 L446.91,190.04 L447.11,190.04 L447.30,190.04 L447.50,190.03 L447.69,190.03 L447.89,190.03 L448.08,190.03 L448.27,190.02 L448.47,190.02 L448.66,190.02 L448.86,190.02 L449.05,190.01 L449.24,190.01 L449.44,190.01 L449.63,190.01 L449.83,190.00 L450.02,190.00 L450.22,190.00 L450.41,190.00 L450.60,189.99 L450.80,189.99 L450.99,189.99 L451.19,189.98 L451.38,189.98 L451.58,189.98 L451.77,189.98 L451.96,189.97 L452.16,189.97 L452.35,189.97 L452.55,189.97 L452.74,189.96 L452.93,189.96 L453.13,189.96 L453.32,189.96 L453.52,189.95 L453.71,189.95 L453.91,189.95 L454.10,189.94 L454.29,189.94 L454.49,189.94 L454.68,189.94 L454.88,189.93 L455.07,189.93 L455.27,189.93 L455.46,189.93 L455.65,189.92 L455.85,189.92 L456.04,189.92 L456.24,189.91 L456.43,189.91 L456.63,189.91 L456.82,189.91 L457.01,189.90 L457.21,189.90 L457.40,189.90 L457.60,189.90 L457.79,189.89 L457.98,189.89 L458.18,189.89 L458.37,189.88 L458.57,189.88 L458.76,189.88 L458.96,189.88 L459.15,189.87 L459.34,189.87 L459.54,189.87 L459.73,189.86 L459.93,189.86 L460.12,189.86 L460.32,189.86 L460.51,189.85 L460.70,189.85 L460.90,189.85 L461.09,189.85 L461.29,189.84 L461.48,189.84 L461.68,189.84 L461.87,189.83 L462.06,189.83 L462.26,189.83 L462.45,189.83 L462.65,189.82 L462.84,189.82 L463.03,189.82 L463.23,189.81 L463.42,189.81 L463.62,189.81 L463.81,189.81 L464.01,189.80 L464.20,189.80" stroke="#7e2f8e" stroke-dasharray="11.2 5.33 2.9 5.385"/>
</g>
<g fill="none" stroke-width="3.2">
<path d="M98.8,44.06 H153.0" stroke="#d95319"/>
<path d="M98.8,68.36 H153.0" stroke="#0072bd" stroke-dasharray="6.9 11.0"/>
<path d="M98.8,92.6 H153.0" stroke="#77ac30" stroke-dasharray="1.4 5.5"/>
<path d="M98.8,116.96 H153.0" stroke="#7e2f8e" stroke-dasharray="11.2 5.35 2.9 5.4"/>
</g>
<g stroke="#000" stroke-width="3.4" fill="none">
<path d="M172.90,334.35 V326.55 M172.90,23.7 V31.5"/><path d="M269.95,334.35 V326.55 M269.95,23.7 V31.5"/><path d="M367.00,334.35 V326.55 M367.00,23.7 V31.5"/><path d="M75.85,272.22 H83.64999999999999 M464.05,272.22 H456.25"/><path d="M75.85,210.09 H83.64999999999999 M464.05,210.09 H456.25"/><path d="M75.85,147.96 H83.64999999999999 M464.05,147.96 H456.25"/><path d="M75.85,85.83 H83.64999999999999 M464.05,85.83 H456.25"/>
<path d="M75.85,21.95 V336.15000000000003" stroke-width="3.4"/>
<path d="M74.14999999999999,23.7 H465.75" stroke-width="3.5"/>
<path d="M74.14999999999999,334.40 H465.75" stroke-width="3.6"/>
<path d="M464.20,21.95 V336.15000000000003" stroke-width="3.1"/>
</g>
<g>
<text x="78.45" y="358.6" text-anchor="middle">0</text><text x="175.50" y="358.6" text-anchor="middle">500</text><text x="272.55" y="358.6" text-anchor="middle">1000</text><text x="369.60" y="358.6" text-anchor="middle">1500</text><text x="466.65" y="358.6" text-anchor="middle">2000</text>
<text x="63.7" y="338.25" text-anchor="end">0</text><text x="63.7" y="276.12" text-anchor="end">0.2</text><text x="63.7" y="213.99" text-anchor="end">0.4</text><text x="63.7" y="151.86" text-anchor="end">0.6</text><text x="63.7" y="89.73" text-anchor="end">0.8</text><text x="63.7" y="27.60" text-anchor="end">1</text>
<text x="164.7" y="51.80">Re</text><text x="191.20" y="51.80">(a</text><text x="210.22" y="44.60" class="s">0</text><text x="209.92" y="56.70" class="s">00</text><text x="228.32" y="51.80">)</text><text x="164.7" y="76.20">Re</text><text x="191.20" y="76.20">(a</text><text x="210.22" y="69.00" class="s">0</text><text x="209.92" y="81.10" class="s">00</text><text x="228.32" y="76.20">)</text><path d="M201.23,63.70 L203.93,58.30 L206.63,63.70" fill="none" stroke="#000" stroke-width="0.95" stroke-linejoin="miter" stroke-miterlimit="10"/><text x="164.7" y="100.60">Im</text><text x="187.78" y="100.60">(a</text><text x="206.80" y="93.40" class="s">0</text><text x="206.50" y="105.50" class="s">00</text><text x="224.90" y="100.60">)</text><path d="M197.80,88.10 L200.50,82.70 L203.20,88.10" fill="none" stroke="#000" stroke-width="0.95" stroke-linejoin="miter" stroke-miterlimit="10"/><text x="164.7" y="125.00">l</text><text x="170.05" y="125.00">a</text><text x="182.35" y="117.80" class="s">0</text><text x="182.05" y="129.90" class="s">00</text><text x="200.27" y="125.00">-i/2l</text><path d="M173.25,112.50 L175.95,107.10 L178.65,112.50" fill="none" stroke="#000" stroke-width="0.95" stroke-linejoin="miter" stroke-miterlimit="10"/>
<path d="M230.3,382.9 L232.7,381.5" stroke="#000" stroke-width="0.8" fill="none" stroke-linecap="round"/>
<path d="M232.6,381.3 L236.8,390.6" stroke="#000" stroke-width="1.6" fill="none" stroke-linecap="butt"/>
<path d="M236.9,391.6 L240.7,373.1" stroke="#000" stroke-width="0.8" fill="none" stroke-linecap="round"/>
<text x="240.9 250.9 257.0 263.1 278.8 290.4 304.7" y="391.5">s [GeV]</text>
</g>
</svg>
</body></html>
